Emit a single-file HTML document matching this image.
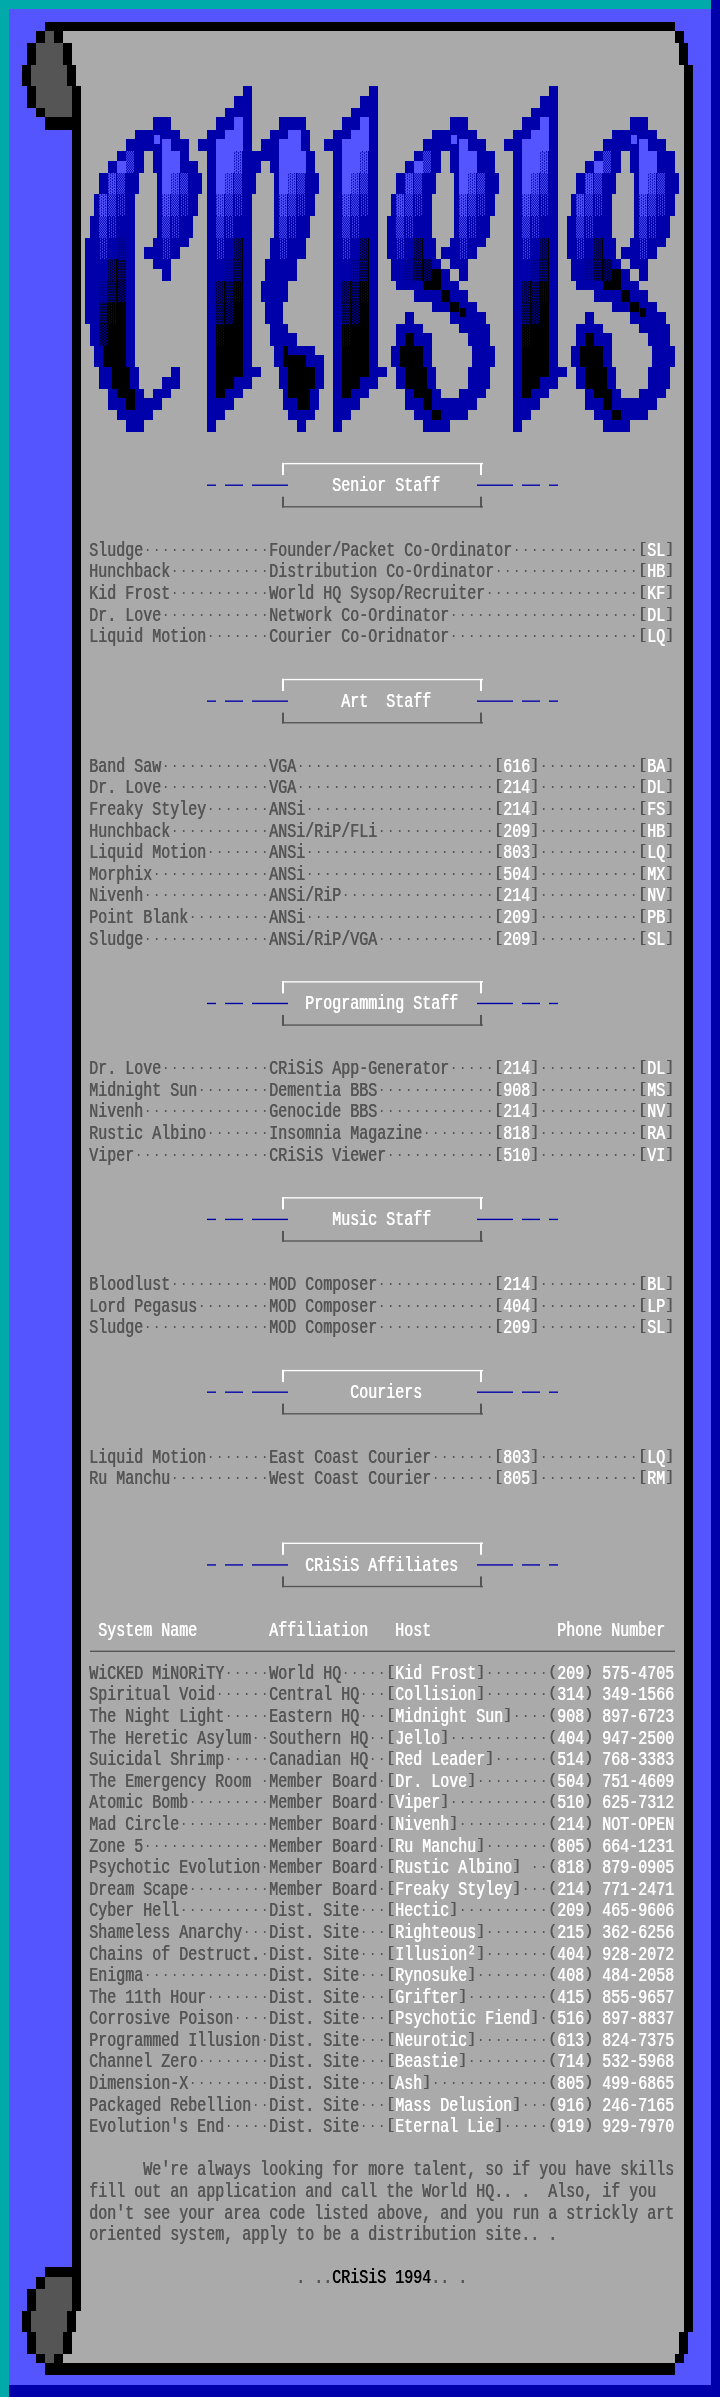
<!DOCTYPE html>
<html lang="en"><head><meta charset="utf-8"><title>CRiSiS 1994</title>
<style>
html,body{margin:0;padding:0;background:#5555ff;}
::-webkit-scrollbar{display:none;}
#scr{position:relative;width:720px;height:2397px;overflow:hidden;background:#5555ff;}
#art{position:absolute;left:0;top:0;display:block;}
.r{position:absolute;left:0;margin:0;height:21.59px;line-height:21.59px;white-space:pre;
font-family:"Liberation Mono","DejaVu Sans Mono",monospace;font-size:20px;font-weight:normal;letter-spacing:-0.00195px;
transform-origin:0 0;transform:translateZ(0) scale(0.75,1);color:#555555;}
.r span{position:absolute;top:0;}
.r{text-shadow:0.7px 0 0 currentColor;}
.r .o{font-size:12px;letter-spacing:4.79883px;top:1px;text-shadow:0.5px 0 0 currentColor;}
.r .b{transform-origin:0 6.4px;transform:scaleY(0.70);}
.w{color:#ffffff}.d{color:#555555}.k{color:#000000}
</style></head><body>
<div id="scr">
<svg id="art" width="720" height="2397" viewBox="0 0 720 2397" shape-rendering="crispEdges">
<defs>
<pattern id="s1" patternUnits="userSpaceOnUse" width="9" height="2.6993" shape-rendering="geometricPrecision"><rect width="9" height="3.7" fill="#0000aa"/><rect x="0" y="0.0000" width="1" height="1.3497" fill="#5555ff"/><rect x="1" y="0.0000" width="1" height="1.3497" fill="#5555ff"/><rect x="3" y="0.0000" width="1" height="1.3497" fill="#5555ff"/><rect x="4" y="0.0000" width="1" height="1.3497" fill="#5555ff"/><rect x="5" y="0.0000" width="1" height="1.3497" fill="#5555ff"/><rect x="7" y="0.0000" width="1" height="1.3497" fill="#5555ff"/><rect x="1" y="1.3497" width="1" height="1.3497" fill="#5555ff"/><rect x="2" y="1.3497" width="1" height="1.3497" fill="#5555ff"/><rect x="3" y="1.3497" width="1" height="1.3497" fill="#5555ff"/><rect x="5" y="1.3497" width="1" height="1.3497" fill="#5555ff"/><rect x="6" y="1.3497" width="1" height="1.3497" fill="#5555ff"/><rect x="7" y="1.3497" width="1" height="1.3497" fill="#5555ff"/></pattern>
<pattern id="s2" patternUnits="userSpaceOnUse" width="9" height="2.6993" shape-rendering="geometricPrecision"><rect width="9" height="3.7" fill="#0000aa"/><rect x="1" y="0.0000" width="1" height="1.3497" fill="#5555ff"/><rect x="3" y="0.0000" width="1" height="1.3497" fill="#5555ff"/><rect x="5" y="0.0000" width="1" height="1.3497" fill="#5555ff"/><rect x="7" y="0.0000" width="1" height="1.3497" fill="#5555ff"/><rect x="0" y="1.3497" width="1" height="1.3497" fill="#5555ff"/><rect x="2" y="1.3497" width="1" height="1.3497" fill="#5555ff"/><rect x="4" y="1.3497" width="1" height="1.3497" fill="#5555ff"/><rect x="6" y="1.3497" width="1" height="1.3497" fill="#5555ff"/></pattern>
<pattern id="s3" patternUnits="userSpaceOnUse" width="9" height="2.6993" shape-rendering="geometricPrecision"><rect width="9" height="3.7" fill="#0000aa"/><rect x="3" y="0.0000" width="1" height="1.3497" fill="#5555ff"/><rect x="7" y="0.0000" width="1" height="1.3497" fill="#5555ff"/><rect x="1" y="1.3497" width="1" height="1.3497" fill="#5555ff"/><rect x="5" y="1.3497" width="1" height="1.3497" fill="#5555ff"/></pattern>
<pattern id="s4" patternUnits="userSpaceOnUse" width="9" height="2.6993" shape-rendering="geometricPrecision"><rect width="9" height="3.7" fill="#000000"/><rect x="0" y="0.0000" width="1" height="1.3497" fill="#0000aa"/><rect x="1" y="0.0000" width="1" height="1.3497" fill="#0000aa"/><rect x="3" y="0.0000" width="1" height="1.3497" fill="#0000aa"/><rect x="4" y="0.0000" width="1" height="1.3497" fill="#0000aa"/><rect x="5" y="0.0000" width="1" height="1.3497" fill="#0000aa"/><rect x="7" y="0.0000" width="1" height="1.3497" fill="#0000aa"/><rect x="1" y="1.3497" width="1" height="1.3497" fill="#0000aa"/><rect x="2" y="1.3497" width="1" height="1.3497" fill="#0000aa"/><rect x="3" y="1.3497" width="1" height="1.3497" fill="#0000aa"/><rect x="5" y="1.3497" width="1" height="1.3497" fill="#0000aa"/><rect x="6" y="1.3497" width="1" height="1.3497" fill="#0000aa"/><rect x="7" y="1.3497" width="1" height="1.3497" fill="#0000aa"/></pattern>
<pattern id="s5" patternUnits="userSpaceOnUse" width="9" height="2.6993" shape-rendering="geometricPrecision"><rect width="9" height="3.7" fill="#000000"/><rect x="1" y="0.0000" width="1" height="1.3497" fill="#0000aa"/><rect x="3" y="0.0000" width="1" height="1.3497" fill="#0000aa"/><rect x="5" y="0.0000" width="1" height="1.3497" fill="#0000aa"/><rect x="7" y="0.0000" width="1" height="1.3497" fill="#0000aa"/><rect x="0" y="1.3497" width="1" height="1.3497" fill="#0000aa"/><rect x="2" y="1.3497" width="1" height="1.3497" fill="#0000aa"/><rect x="4" y="1.3497" width="1" height="1.3497" fill="#0000aa"/><rect x="6" y="1.3497" width="1" height="1.3497" fill="#0000aa"/></pattern>
<pattern id="s6" patternUnits="userSpaceOnUse" width="9" height="2.6993" shape-rendering="geometricPrecision"><rect width="9" height="3.7" fill="#000000"/><rect x="3" y="0.0000" width="1" height="1.3497" fill="#0000aa"/><rect x="7" y="0.0000" width="1" height="1.3497" fill="#0000aa"/><rect x="1" y="1.3497" width="1" height="1.3497" fill="#0000aa"/><rect x="5" y="1.3497" width="1" height="1.3497" fill="#0000aa"/></pattern>
</defs>
<rect x="0" y="0" width="720" height="2397" fill="#5555ff"/>
<rect x="0" y="0" width="711" height="9.45" fill="#00aaaa"/>
<rect x="711" y="0" width="9" height="2384.85" fill="#0000aa"/>
<rect x="0" y="9.45" width="9" height="2387.55" fill="#00aaaa"/>
<rect x="45" y="21.59" width="630" height="9.45" fill="#000000"/>
<rect x="45" y="2363.26" width="630" height="12.15" fill="#000000"/>
<rect x="36" y="31.04" width="9" height="12.15" fill="#000000"/>
<rect x="36" y="107.97" width="9" height="9.45" fill="#000000"/>
<rect x="36" y="2276.88" width="9" height="12.15" fill="#000000"/>
<rect x="36" y="2353.81" width="9" height="9.45" fill="#000000"/>
<rect x="45" y="31.04" width="9" height="12.15" fill="#555555"/>
<rect x="45" y="2353.81" width="9" height="9.45" fill="#555555"/>
<rect x="54" y="31.04" width="9" height="12.15" fill="#000000"/>
<rect x="54" y="2353.81" width="9" height="9.45" fill="#000000"/>
<rect x="63" y="31.04" width="612" height="12.15" fill="#aaaaaa"/>
<rect x="63" y="2353.81" width="612" height="9.45" fill="#aaaaaa"/>
<rect x="675" y="31.04" width="9" height="12.15" fill="#000000"/>
<rect x="675" y="2353.81" width="9" height="9.45" fill="#000000"/>
<rect x="27" y="43.19" width="9" height="21.59" fill="#000000"/>
<rect x="27" y="86.38" width="9" height="21.59" fill="#000000"/>
<rect x="27" y="2289.03" width="9" height="21.59" fill="#000000"/>
<rect x="27" y="2332.22" width="9" height="21.59" fill="#000000"/>
<rect x="36" y="43.19" width="27" height="21.59" fill="#555555"/>
<rect x="36" y="2332.22" width="27" height="21.59" fill="#555555"/>
<rect x="63" y="43.19" width="9" height="21.59" fill="#000000"/>
<rect x="63" y="2332.22" width="9" height="21.59" fill="#000000"/>
<rect x="72" y="43.19" width="607" height="21.59" fill="#aaaaaa"/>
<rect x="72" y="2332.22" width="607" height="21.59" fill="#aaaaaa"/>
<rect x="679" y="43.19" width="9" height="21.59" fill="#000000"/>
<rect x="679" y="2332.22" width="9" height="21.59" fill="#000000"/>
<rect x="22" y="64.78" width="9" height="21.59" fill="#000000"/>
<rect x="22" y="2310.62" width="9" height="21.59" fill="#000000"/>
<rect x="31" y="64.78" width="36" height="21.59" fill="#555555"/>
<rect x="31" y="2310.62" width="36" height="21.59" fill="#555555"/>
<rect x="67" y="64.78" width="9" height="21.59" fill="#000000"/>
<rect x="67" y="2310.62" width="9" height="21.59" fill="#000000"/>
<rect x="76" y="64.78" width="608" height="21.59" fill="#aaaaaa"/>
<rect x="76" y="2310.62" width="608" height="21.59" fill="#aaaaaa"/>
<rect x="684" y="64.78" width="9" height="2267.43" fill="#000000"/>
<rect x="36" y="86.38" width="36" height="21.59" fill="#555555"/>
<rect x="36" y="2289.03" width="36" height="21.59" fill="#555555"/>
<rect x="72" y="86.38" width="9" height="31.04" fill="#000000"/>
<rect x="72" y="129.57" width="9" height="2137.86" fill="#000000"/>
<rect x="72" y="2276.88" width="9" height="33.74" fill="#000000"/>
<rect x="81" y="86.38" width="162" height="9.45" fill="#aaaaaa"/>
<rect x="243" y="86.38" width="9" height="9.45" fill="#0000aa"/>
<rect x="243" y="117.42" width="9" height="33.74" fill="#0000aa"/>
<rect x="243" y="194.35" width="9" height="21.59" fill="#0000aa"/>
<rect x="243" y="237.54" width="9" height="129.57" fill="#0000aa"/>
<rect x="252" y="86.38" width="117" height="9.45" fill="#aaaaaa"/>
<rect x="369" y="86.38" width="9" height="9.45" fill="#0000aa"/>
<rect x="369" y="117.42" width="9" height="98.53" fill="#0000aa"/>
<rect x="369" y="237.54" width="9" height="129.57" fill="#0000aa"/>
<rect x="378" y="86.38" width="171" height="9.45" fill="#aaaaaa"/>
<rect x="549" y="86.38" width="9" height="9.45" fill="#0000aa"/>
<rect x="549" y="117.42" width="9" height="98.53" fill="#0000aa"/>
<rect x="549" y="237.54" width="9" height="129.57" fill="#0000aa"/>
<rect x="558" y="86.38" width="126" height="31.04" fill="#aaaaaa"/>
<rect x="81" y="95.83" width="153" height="12.15" fill="#aaaaaa"/>
<rect x="234" y="95.83" width="18" height="12.15" fill="#0000aa"/>
<rect x="234" y="215.95" width="18" height="21.59" fill="#0000aa"/>
<rect x="234" y="376.56" width="18" height="12.15" fill="#0000aa"/>
<rect x="252" y="95.83" width="108" height="12.15" fill="#aaaaaa"/>
<rect x="360" y="95.83" width="18" height="12.15" fill="#0000aa"/>
<rect x="360" y="215.95" width="18" height="21.59" fill="#0000aa"/>
<rect x="360" y="376.56" width="18" height="12.15" fill="#0000aa"/>
<rect x="378" y="95.83" width="162" height="12.15" fill="#aaaaaa"/>
<rect x="540" y="95.83" width="18" height="12.15" fill="#0000aa"/>
<rect x="540" y="215.95" width="18" height="21.59" fill="#0000aa"/>
<rect x="540" y="376.56" width="18" height="12.15" fill="#0000aa"/>
<rect x="45" y="107.97" width="27" height="9.45" fill="#555555"/>
<rect x="45" y="2276.88" width="27" height="12.15" fill="#555555"/>
<rect x="81" y="107.97" width="144" height="9.45" fill="#aaaaaa"/>
<rect x="225" y="107.97" width="27" height="9.45" fill="#0000aa"/>
<rect x="252" y="107.97" width="99" height="9.45" fill="#aaaaaa"/>
<rect x="351" y="107.97" width="27" height="9.45" fill="#0000aa"/>
<rect x="378" y="107.97" width="153" height="9.45" fill="#aaaaaa"/>
<rect x="531" y="107.97" width="27" height="9.45" fill="#0000aa"/>
<rect x="45" y="117.42" width="36" height="12.15" fill="#000000"/>
<rect x="45" y="2267.43" width="36" height="9.45" fill="#000000"/>
<rect x="81" y="117.42" width="72" height="12.15" fill="#aaaaaa"/>
<rect x="153" y="117.42" width="18" height="12.15" fill="#0000aa"/>
<rect x="153" y="259.14" width="18" height="9.45" fill="#0000aa"/>
<rect x="153" y="388.7" width="18" height="9.45" fill="#0000aa"/>
<rect x="171" y="117.42" width="45" height="12.15" fill="#aaaaaa"/>
<rect x="216" y="117.42" width="18" height="12.15" fill="#0000aa"/>
<rect x="252" y="117.42" width="27" height="12.15" fill="#aaaaaa"/>
<rect x="252" y="376.56" width="27" height="12.15" fill="#aaaaaa"/>
<rect x="279" y="117.42" width="27" height="12.15" fill="#0000aa"/>
<rect x="306" y="117.42" width="36" height="12.15" fill="#aaaaaa"/>
<rect x="342" y="117.42" width="18" height="12.15" fill="#0000aa"/>
<rect x="378" y="117.42" width="72" height="12.15" fill="#aaaaaa"/>
<rect x="450" y="117.42" width="18" height="12.15" fill="#0000aa"/>
<rect x="450" y="259.14" width="18" height="9.45" fill="#0000aa"/>
<rect x="450" y="290.18" width="18" height="12.15" fill="#0000aa"/>
<rect x="468" y="117.42" width="54" height="12.15" fill="#aaaaaa"/>
<rect x="522" y="117.42" width="18" height="12.15" fill="#0000aa"/>
<rect x="558" y="117.42" width="72" height="12.15" fill="#aaaaaa"/>
<rect x="630" y="117.42" width="18" height="12.15" fill="#0000aa"/>
<rect x="630" y="259.14" width="18" height="9.45" fill="#0000aa"/>
<rect x="630" y="290.18" width="18" height="12.15" fill="#0000aa"/>
<rect x="648" y="117.42" width="36" height="12.15" fill="#aaaaaa"/>
<rect x="648" y="259.14" width="36" height="21.59" fill="#aaaaaa"/>
<rect x="648" y="290.18" width="36" height="12.15" fill="#aaaaaa"/>
<rect x="648" y="410.3" width="36" height="9.45" fill="#aaaaaa"/>
<rect x="81" y="129.57" width="54" height="9.45" fill="#aaaaaa"/>
<rect x="135" y="129.57" width="45" height="9.45" fill="#0000aa"/>
<rect x="180" y="129.57" width="27" height="9.45" fill="#aaaaaa"/>
<rect x="180" y="246.99" width="27" height="12.15" fill="#aaaaaa"/>
<rect x="180" y="367.11" width="27" height="21.59" fill="#aaaaaa"/>
<rect x="207" y="129.57" width="18" height="9.45" fill="#0000aa"/>
<rect x="207" y="259.14" width="18" height="21.59" fill="#0000aa"/>
<rect x="207" y="410.3" width="18" height="9.45" fill="#0000aa"/>
<rect x="252" y="129.57" width="18" height="9.45" fill="#aaaaaa"/>
<rect x="252" y="237.54" width="18" height="21.59" fill="#aaaaaa"/>
<rect x="252" y="323.92" width="18" height="21.59" fill="#aaaaaa"/>
<rect x="270" y="129.57" width="18" height="9.45" fill="#0000aa"/>
<rect x="270" y="323.92" width="18" height="9.45" fill="#0000aa"/>
<rect x="301" y="129.57" width="9" height="21.59" fill="#0000aa"/>
<rect x="310" y="129.57" width="23" height="9.45" fill="#aaaaaa"/>
<rect x="310" y="215.95" width="23" height="21.59" fill="#aaaaaa"/>
<rect x="333" y="129.57" width="18" height="9.45" fill="#0000aa"/>
<rect x="333" y="259.14" width="18" height="21.59" fill="#0000aa"/>
<rect x="333" y="410.3" width="18" height="9.45" fill="#0000aa"/>
<rect x="378" y="129.57" width="54" height="9.45" fill="#aaaaaa"/>
<rect x="378" y="302.32" width="54" height="9.45" fill="#aaaaaa"/>
<rect x="432" y="129.57" width="45" height="9.45" fill="#0000aa"/>
<rect x="432" y="398.15" width="45" height="12.15" fill="#0000aa"/>
<rect x="477" y="129.57" width="36" height="9.45" fill="#aaaaaa"/>
<rect x="477" y="246.99" width="36" height="12.15" fill="#aaaaaa"/>
<rect x="477" y="302.32" width="36" height="9.45" fill="#aaaaaa"/>
<rect x="477" y="398.15" width="36" height="12.15" fill="#aaaaaa"/>
<rect x="513" y="129.57" width="18" height="9.45" fill="#0000aa"/>
<rect x="513" y="259.14" width="18" height="21.59" fill="#0000aa"/>
<rect x="513" y="410.3" width="18" height="9.45" fill="#0000aa"/>
<rect x="558" y="129.57" width="54" height="9.45" fill="#aaaaaa"/>
<rect x="558" y="302.32" width="54" height="9.45" fill="#aaaaaa"/>
<rect x="612" y="129.57" width="45" height="9.45" fill="#0000aa"/>
<rect x="612" y="398.15" width="45" height="12.15" fill="#0000aa"/>
<rect x="657" y="129.57" width="27" height="9.45" fill="#aaaaaa"/>
<rect x="657" y="246.99" width="27" height="12.15" fill="#aaaaaa"/>
<rect x="657" y="302.32" width="27" height="9.45" fill="#aaaaaa"/>
<rect x="657" y="398.15" width="27" height="12.15" fill="#aaaaaa"/>
<rect x="81" y="139.02" width="45" height="12.15" fill="#aaaaaa"/>
<rect x="81" y="419.74" width="45" height="12.15" fill="#aaaaaa"/>
<rect x="126" y="139.02" width="36" height="12.15" fill="#0000aa"/>
<rect x="171" y="139.02" width="18" height="12.15" fill="#0000aa"/>
<rect x="171" y="237.54" width="18" height="9.45" fill="#0000aa"/>
<rect x="189" y="139.02" width="9" height="12.15" fill="#aaaaaa"/>
<rect x="198" y="139.02" width="18" height="12.15" fill="#0000aa"/>
<rect x="252" y="139.02" width="9" height="12.15" fill="#aaaaaa"/>
<rect x="252" y="280.73" width="9" height="21.59" fill="#aaaaaa"/>
<rect x="261" y="139.02" width="18" height="12.15" fill="#0000aa"/>
<rect x="310" y="139.02" width="14" height="12.15" fill="#aaaaaa"/>
<rect x="324" y="139.02" width="18" height="12.15" fill="#0000aa"/>
<rect x="378" y="139.02" width="45" height="12.15" fill="#aaaaaa"/>
<rect x="423" y="139.02" width="36" height="12.15" fill="#0000aa"/>
<rect x="468" y="139.02" width="18" height="12.15" fill="#0000aa"/>
<rect x="468" y="237.54" width="18" height="9.45" fill="#0000aa"/>
<rect x="486" y="139.02" width="18" height="12.15" fill="#aaaaaa"/>
<rect x="504" y="139.02" width="18" height="12.15" fill="#0000aa"/>
<rect x="558" y="139.02" width="45" height="12.15" fill="#aaaaaa"/>
<rect x="603" y="139.02" width="36" height="12.15" fill="#0000aa"/>
<rect x="648" y="139.02" width="18" height="12.15" fill="#0000aa"/>
<rect x="648" y="237.54" width="18" height="9.45" fill="#0000aa"/>
<rect x="666" y="139.02" width="18" height="12.15" fill="#aaaaaa"/>
<rect x="666" y="237.54" width="18" height="9.45" fill="#aaaaaa"/>
<rect x="666" y="311.77" width="18" height="12.15" fill="#aaaaaa"/>
<rect x="666" y="388.7" width="18" height="9.45" fill="#aaaaaa"/>
<rect x="81" y="151.16" width="36" height="9.45" fill="#aaaaaa"/>
<rect x="81" y="410.3" width="36" height="9.45" fill="#aaaaaa"/>
<rect x="117" y="151.16" width="9" height="9.45" fill="#0000aa"/>
<rect x="126" y="151.16" width="9" height="21.59" fill="url(#s2)"/>
<rect x="135" y="151.16" width="9" height="21.59" fill="#0000aa"/>
<rect x="135" y="388.7" width="9" height="9.45" fill="#0000aa"/>
<rect x="144" y="151.16" width="9" height="21.59" fill="#aaaaaa"/>
<rect x="144" y="388.7" width="9" height="9.45" fill="#aaaaaa"/>
<rect x="153" y="151.16" width="9" height="21.59" fill="#0000aa"/>
<rect x="153" y="237.54" width="9" height="9.45" fill="#0000aa"/>
<rect x="180" y="151.16" width="9" height="9.45" fill="#0000aa"/>
<rect x="189" y="151.16" width="18" height="9.45" fill="#aaaaaa"/>
<rect x="189" y="237.54" width="18" height="9.45" fill="#aaaaaa"/>
<rect x="207" y="151.16" width="9" height="107.97" fill="#0000aa"/>
<rect x="207" y="280.73" width="9" height="117.42" fill="#0000aa"/>
<rect x="207" y="419.74" width="9" height="12.15" fill="#0000aa"/>
<rect x="234" y="151.16" width="9" height="21.59" fill="url(#s1)"/>
<rect x="243" y="151.16" width="36" height="9.45" fill="#0000aa"/>
<rect x="306" y="151.16" width="9" height="21.59" fill="#0000aa"/>
<rect x="306" y="194.35" width="9" height="21.59" fill="#0000aa"/>
<rect x="315" y="151.16" width="18" height="21.59" fill="#aaaaaa"/>
<rect x="315" y="194.35" width="18" height="21.59" fill="#aaaaaa"/>
<rect x="315" y="345.51" width="18" height="9.45" fill="#aaaaaa"/>
<rect x="315" y="410.3" width="18" height="9.45" fill="#aaaaaa"/>
<rect x="333" y="151.16" width="9" height="107.97" fill="#0000aa"/>
<rect x="333" y="280.73" width="9" height="117.42" fill="#0000aa"/>
<rect x="333" y="419.74" width="9" height="12.15" fill="#0000aa"/>
<rect x="360" y="151.16" width="9" height="21.59" fill="url(#s1)"/>
<rect x="378" y="151.16" width="36" height="9.45" fill="#aaaaaa"/>
<rect x="378" y="290.18" width="36" height="12.15" fill="#aaaaaa"/>
<rect x="414" y="151.16" width="9" height="9.45" fill="#0000aa"/>
<rect x="423" y="151.16" width="9" height="21.59" fill="url(#s2)"/>
<rect x="432" y="151.16" width="9" height="21.59" fill="#0000aa"/>
<rect x="432" y="259.14" width="9" height="9.45" fill="#0000aa"/>
<rect x="432" y="388.7" width="9" height="9.45" fill="#0000aa"/>
<rect x="441" y="151.16" width="9" height="21.59" fill="#aaaaaa"/>
<rect x="441" y="259.14" width="9" height="9.45" fill="#aaaaaa"/>
<rect x="450" y="151.16" width="9" height="21.59" fill="#0000aa"/>
<rect x="450" y="237.54" width="9" height="9.45" fill="#0000aa"/>
<rect x="477" y="151.16" width="18" height="21.59" fill="#0000aa"/>
<rect x="495" y="151.16" width="18" height="21.59" fill="#aaaaaa"/>
<rect x="495" y="194.35" width="18" height="21.59" fill="#aaaaaa"/>
<rect x="495" y="345.51" width="18" height="21.59" fill="#aaaaaa"/>
<rect x="513" y="151.16" width="9" height="107.97" fill="#0000aa"/>
<rect x="513" y="280.73" width="9" height="117.42" fill="#0000aa"/>
<rect x="513" y="419.74" width="9" height="12.15" fill="#0000aa"/>
<rect x="540" y="151.16" width="9" height="21.59" fill="url(#s1)"/>
<rect x="558" y="151.16" width="36" height="9.45" fill="#aaaaaa"/>
<rect x="558" y="290.18" width="36" height="12.15" fill="#aaaaaa"/>
<rect x="594" y="151.16" width="9" height="9.45" fill="#0000aa"/>
<rect x="603" y="151.16" width="9" height="21.59" fill="url(#s2)"/>
<rect x="612" y="151.16" width="9" height="21.59" fill="#0000aa"/>
<rect x="612" y="259.14" width="9" height="9.45" fill="#0000aa"/>
<rect x="612" y="388.7" width="9" height="9.45" fill="#0000aa"/>
<rect x="621" y="151.16" width="9" height="21.59" fill="#aaaaaa"/>
<rect x="621" y="259.14" width="9" height="9.45" fill="#aaaaaa"/>
<rect x="630" y="151.16" width="9" height="21.59" fill="#0000aa"/>
<rect x="630" y="237.54" width="9" height="9.45" fill="#0000aa"/>
<rect x="657" y="151.16" width="18" height="21.59" fill="#0000aa"/>
<rect x="675" y="151.16" width="9" height="21.59" fill="#aaaaaa"/>
<rect x="675" y="194.35" width="9" height="21.59" fill="#aaaaaa"/>
<rect x="675" y="345.51" width="9" height="21.59" fill="#aaaaaa"/>
<rect x="81" y="160.61" width="27" height="12.15" fill="#aaaaaa"/>
<rect x="81" y="388.7" width="27" height="21.59" fill="#aaaaaa"/>
<rect x="108" y="160.61" width="9" height="12.15" fill="#0000aa"/>
<rect x="108" y="237.54" width="9" height="21.59" fill="#0000aa"/>
<rect x="108" y="388.7" width="9" height="9.45" fill="#0000aa"/>
<rect x="180" y="160.61" width="18" height="12.15" fill="#0000aa"/>
<rect x="198" y="160.61" width="9" height="12.15" fill="#aaaaaa"/>
<rect x="198" y="194.35" width="9" height="21.59" fill="#aaaaaa"/>
<rect x="243" y="160.61" width="18" height="12.15" fill="#0000aa"/>
<rect x="243" y="367.11" width="18" height="9.45" fill="#0000aa"/>
<rect x="261" y="160.61" width="9" height="12.15" fill="#aaaaaa"/>
<rect x="270" y="160.61" width="9" height="12.15" fill="#0000aa"/>
<rect x="270" y="237.54" width="9" height="21.59" fill="#0000aa"/>
<rect x="378" y="160.61" width="27" height="12.15" fill="#aaaaaa"/>
<rect x="378" y="311.77" width="27" height="12.15" fill="#aaaaaa"/>
<rect x="405" y="160.61" width="9" height="12.15" fill="#0000aa"/>
<rect x="405" y="237.54" width="9" height="21.59" fill="#0000aa"/>
<rect x="405" y="311.77" width="9" height="12.15" fill="#0000aa"/>
<rect x="405" y="388.7" width="9" height="9.45" fill="#0000aa"/>
<rect x="558" y="160.61" width="27" height="12.15" fill="#aaaaaa"/>
<rect x="558" y="311.77" width="27" height="12.15" fill="#aaaaaa"/>
<rect x="585" y="160.61" width="9" height="12.15" fill="#0000aa"/>
<rect x="585" y="237.54" width="9" height="21.59" fill="#0000aa"/>
<rect x="585" y="311.77" width="9" height="12.15" fill="#0000aa"/>
<rect x="585" y="388.7" width="9" height="9.45" fill="#0000aa"/>
<rect x="81" y="172.76" width="18" height="21.59" fill="#aaaaaa"/>
<rect x="81" y="367.11" width="18" height="21.59" fill="#aaaaaa"/>
<rect x="99" y="172.76" width="9" height="21.59" fill="#0000aa"/>
<rect x="108" y="172.76" width="9" height="21.59" fill="url(#s1)"/>
<rect x="117" y="172.76" width="9" height="21.59" fill="url(#s2)"/>
<rect x="126" y="172.76" width="13" height="21.59" fill="#0000aa"/>
<rect x="139" y="172.76" width="18" height="21.59" fill="#aaaaaa"/>
<rect x="157" y="172.76" width="5" height="64.78" fill="#0000aa"/>
<rect x="171" y="172.76" width="9" height="21.59" fill="url(#s1)"/>
<rect x="180" y="172.76" width="9" height="21.59" fill="url(#s2)"/>
<rect x="189" y="172.76" width="13" height="21.59" fill="#0000aa"/>
<rect x="202" y="172.76" width="5" height="21.59" fill="#aaaaaa"/>
<rect x="225" y="172.76" width="9" height="21.59" fill="url(#s1)"/>
<rect x="234" y="172.76" width="9" height="21.59" fill="url(#s2)"/>
<rect x="243" y="172.76" width="13" height="21.59" fill="#0000aa"/>
<rect x="256" y="172.76" width="18" height="21.59" fill="#aaaaaa"/>
<rect x="274" y="172.76" width="5" height="64.78" fill="#0000aa"/>
<rect x="288" y="172.76" width="9" height="21.59" fill="url(#s1)"/>
<rect x="297" y="172.76" width="9" height="21.59" fill="url(#s2)"/>
<rect x="306" y="172.76" width="13" height="21.59" fill="#0000aa"/>
<rect x="319" y="172.76" width="14" height="21.59" fill="#aaaaaa"/>
<rect x="319" y="388.7" width="14" height="21.59" fill="#aaaaaa"/>
<rect x="351" y="172.76" width="9" height="21.59" fill="url(#s1)"/>
<rect x="360" y="172.76" width="9" height="21.59" fill="url(#s2)"/>
<rect x="378" y="172.76" width="18" height="21.59" fill="#aaaaaa"/>
<rect x="378" y="280.73" width="18" height="9.45" fill="#aaaaaa"/>
<rect x="378" y="323.92" width="18" height="21.59" fill="#aaaaaa"/>
<rect x="378" y="376.56" width="18" height="12.15" fill="#aaaaaa"/>
<rect x="396" y="172.76" width="9" height="21.59" fill="#0000aa"/>
<rect x="396" y="333.37" width="9" height="12.15" fill="#0000aa"/>
<rect x="396" y="367.11" width="9" height="21.59" fill="#0000aa"/>
<rect x="405" y="172.76" width="9" height="21.59" fill="url(#s1)"/>
<rect x="414" y="172.76" width="9" height="21.59" fill="url(#s2)"/>
<rect x="423" y="172.76" width="13" height="21.59" fill="#0000aa"/>
<rect x="423" y="237.54" width="13" height="21.59" fill="#0000aa"/>
<rect x="436" y="172.76" width="18" height="21.59" fill="#aaaaaa"/>
<rect x="454" y="172.76" width="5" height="64.78" fill="#0000aa"/>
<rect x="468" y="172.76" width="9" height="21.59" fill="url(#s1)"/>
<rect x="477" y="172.76" width="9" height="21.59" fill="url(#s2)"/>
<rect x="486" y="172.76" width="13" height="21.59" fill="#0000aa"/>
<rect x="499" y="172.76" width="14" height="21.59" fill="#aaaaaa"/>
<rect x="531" y="172.76" width="9" height="21.59" fill="url(#s1)"/>
<rect x="540" y="172.76" width="9" height="21.59" fill="url(#s2)"/>
<rect x="558" y="172.76" width="18" height="21.59" fill="#aaaaaa"/>
<rect x="558" y="280.73" width="18" height="9.45" fill="#aaaaaa"/>
<rect x="558" y="323.92" width="18" height="21.59" fill="#aaaaaa"/>
<rect x="558" y="376.56" width="18" height="12.15" fill="#aaaaaa"/>
<rect x="576" y="172.76" width="9" height="21.59" fill="#0000aa"/>
<rect x="576" y="333.37" width="9" height="12.15" fill="#0000aa"/>
<rect x="576" y="367.11" width="9" height="21.59" fill="#0000aa"/>
<rect x="585" y="172.76" width="9" height="21.59" fill="url(#s1)"/>
<rect x="594" y="172.76" width="9" height="21.59" fill="url(#s2)"/>
<rect x="603" y="172.76" width="13" height="21.59" fill="#0000aa"/>
<rect x="603" y="237.54" width="13" height="21.59" fill="#0000aa"/>
<rect x="616" y="172.76" width="18" height="21.59" fill="#aaaaaa"/>
<rect x="634" y="172.76" width="5" height="64.78" fill="#0000aa"/>
<rect x="648" y="172.76" width="9" height="21.59" fill="url(#s1)"/>
<rect x="657" y="172.76" width="9" height="21.59" fill="url(#s2)"/>
<rect x="666" y="172.76" width="13" height="21.59" fill="#0000aa"/>
<rect x="679" y="172.76" width="5" height="21.59" fill="#aaaaaa"/>
<rect x="81" y="194.35" width="13" height="21.59" fill="#aaaaaa"/>
<rect x="81" y="345.51" width="13" height="21.59" fill="#aaaaaa"/>
<rect x="94" y="194.35" width="5" height="21.59" fill="#0000aa"/>
<rect x="99" y="194.35" width="9" height="21.59" fill="url(#s1)"/>
<rect x="108" y="194.35" width="9" height="21.59" fill="url(#s2)"/>
<rect x="117" y="194.35" width="9" height="21.59" fill="url(#s3)"/>
<rect x="126" y="194.35" width="9" height="21.59" fill="#0000aa"/>
<rect x="126" y="237.54" width="9" height="129.57" fill="#0000aa"/>
<rect x="135" y="194.35" width="22" height="43.19" fill="#aaaaaa"/>
<rect x="162" y="194.35" width="9" height="21.59" fill="url(#s1)"/>
<rect x="171" y="194.35" width="9" height="21.59" fill="url(#s2)"/>
<rect x="180" y="194.35" width="9" height="21.59" fill="url(#s3)"/>
<rect x="189" y="194.35" width="9" height="21.59" fill="#0000aa"/>
<rect x="216" y="194.35" width="9" height="21.59" fill="url(#s1)"/>
<rect x="225" y="194.35" width="9" height="21.59" fill="url(#s2)"/>
<rect x="234" y="194.35" width="9" height="21.59" fill="url(#s3)"/>
<rect x="252" y="194.35" width="22" height="43.19" fill="#aaaaaa"/>
<rect x="252" y="345.51" width="22" height="21.59" fill="#aaaaaa"/>
<rect x="279" y="194.35" width="9" height="21.59" fill="url(#s1)"/>
<rect x="288" y="194.35" width="9" height="21.59" fill="url(#s2)"/>
<rect x="297" y="194.35" width="9" height="21.59" fill="url(#s3)"/>
<rect x="342" y="194.35" width="9" height="21.59" fill="url(#s1)"/>
<rect x="351" y="194.35" width="9" height="21.59" fill="url(#s2)"/>
<rect x="360" y="194.35" width="9" height="21.59" fill="url(#s3)"/>
<rect x="378" y="194.35" width="13" height="21.59" fill="#aaaaaa"/>
<rect x="378" y="259.14" width="13" height="21.59" fill="#aaaaaa"/>
<rect x="378" y="345.51" width="13" height="21.59" fill="#aaaaaa"/>
<rect x="391" y="194.35" width="5" height="21.59" fill="#0000aa"/>
<rect x="396" y="194.35" width="9" height="21.59" fill="url(#s1)"/>
<rect x="405" y="194.35" width="9" height="21.59" fill="url(#s2)"/>
<rect x="414" y="194.35" width="9" height="21.59" fill="url(#s3)"/>
<rect x="423" y="194.35" width="9" height="21.59" fill="#0000aa"/>
<rect x="423" y="345.51" width="9" height="21.59" fill="#0000aa"/>
<rect x="432" y="194.35" width="22" height="43.19" fill="#aaaaaa"/>
<rect x="459" y="194.35" width="9" height="21.59" fill="url(#s1)"/>
<rect x="468" y="194.35" width="9" height="21.59" fill="url(#s2)"/>
<rect x="477" y="194.35" width="9" height="21.59" fill="url(#s3)"/>
<rect x="486" y="194.35" width="9" height="21.59" fill="#0000aa"/>
<rect x="522" y="194.35" width="9" height="21.59" fill="url(#s1)"/>
<rect x="531" y="194.35" width="9" height="21.59" fill="url(#s2)"/>
<rect x="540" y="194.35" width="9" height="21.59" fill="url(#s3)"/>
<rect x="558" y="194.35" width="13" height="21.59" fill="#aaaaaa"/>
<rect x="558" y="259.14" width="13" height="21.59" fill="#aaaaaa"/>
<rect x="558" y="345.51" width="13" height="21.59" fill="#aaaaaa"/>
<rect x="571" y="194.35" width="5" height="21.59" fill="#0000aa"/>
<rect x="576" y="194.35" width="9" height="21.59" fill="url(#s1)"/>
<rect x="585" y="194.35" width="9" height="21.59" fill="url(#s2)"/>
<rect x="594" y="194.35" width="9" height="21.59" fill="url(#s3)"/>
<rect x="603" y="194.35" width="9" height="21.59" fill="#0000aa"/>
<rect x="603" y="345.51" width="9" height="21.59" fill="#0000aa"/>
<rect x="612" y="194.35" width="22" height="43.19" fill="#aaaaaa"/>
<rect x="639" y="194.35" width="9" height="21.59" fill="url(#s1)"/>
<rect x="648" y="194.35" width="9" height="21.59" fill="url(#s2)"/>
<rect x="657" y="194.35" width="9" height="21.59" fill="url(#s3)"/>
<rect x="666" y="194.35" width="9" height="21.59" fill="#0000aa"/>
<rect x="81" y="215.95" width="9" height="21.59" fill="#aaaaaa"/>
<rect x="81" y="323.92" width="9" height="21.59" fill="#aaaaaa"/>
<rect x="90" y="215.95" width="9" height="21.59" fill="#0000aa"/>
<rect x="90" y="323.92" width="9" height="21.59" fill="#0000aa"/>
<rect x="99" y="215.95" width="9" height="21.59" fill="url(#s2)"/>
<rect x="108" y="215.95" width="9" height="21.59" fill="url(#s3)"/>
<rect x="117" y="215.95" width="18" height="21.59" fill="#0000aa"/>
<rect x="162" y="215.95" width="9" height="21.59" fill="url(#s2)"/>
<rect x="171" y="215.95" width="9" height="21.59" fill="url(#s3)"/>
<rect x="180" y="215.95" width="13" height="21.59" fill="#0000aa"/>
<rect x="193" y="215.95" width="14" height="21.59" fill="#aaaaaa"/>
<rect x="216" y="215.95" width="9" height="21.59" fill="url(#s2)"/>
<rect x="225" y="215.95" width="9" height="21.59" fill="url(#s3)"/>
<rect x="279" y="215.95" width="9" height="21.59" fill="url(#s2)"/>
<rect x="288" y="215.95" width="9" height="21.59" fill="url(#s3)"/>
<rect x="297" y="215.95" width="13" height="21.59" fill="#0000aa"/>
<rect x="342" y="215.95" width="9" height="21.59" fill="url(#s2)"/>
<rect x="351" y="215.95" width="9" height="21.59" fill="url(#s3)"/>
<rect x="378" y="215.95" width="9" height="43.19" fill="#aaaaaa"/>
<rect x="387" y="215.95" width="9" height="43.19" fill="#0000aa"/>
<rect x="396" y="215.95" width="9" height="21.59" fill="url(#s2)"/>
<rect x="405" y="215.95" width="9" height="21.59" fill="url(#s3)"/>
<rect x="414" y="215.95" width="18" height="21.59" fill="#0000aa"/>
<rect x="414" y="333.37" width="18" height="12.15" fill="#0000aa"/>
<rect x="414" y="410.3" width="18" height="9.45" fill="#0000aa"/>
<rect x="459" y="215.95" width="9" height="21.59" fill="url(#s2)"/>
<rect x="468" y="215.95" width="9" height="21.59" fill="url(#s3)"/>
<rect x="477" y="215.95" width="13" height="21.59" fill="#0000aa"/>
<rect x="490" y="215.95" width="23" height="21.59" fill="#aaaaaa"/>
<rect x="490" y="323.92" width="23" height="21.59" fill="#aaaaaa"/>
<rect x="490" y="367.11" width="23" height="21.59" fill="#aaaaaa"/>
<rect x="522" y="215.95" width="9" height="21.59" fill="url(#s2)"/>
<rect x="531" y="215.95" width="9" height="21.59" fill="url(#s3)"/>
<rect x="558" y="215.95" width="9" height="43.19" fill="#aaaaaa"/>
<rect x="567" y="215.95" width="9" height="43.19" fill="#0000aa"/>
<rect x="576" y="215.95" width="9" height="21.59" fill="url(#s2)"/>
<rect x="585" y="215.95" width="9" height="21.59" fill="url(#s3)"/>
<rect x="594" y="215.95" width="18" height="21.59" fill="#0000aa"/>
<rect x="594" y="333.37" width="18" height="12.15" fill="#0000aa"/>
<rect x="594" y="410.3" width="18" height="9.45" fill="#0000aa"/>
<rect x="639" y="215.95" width="9" height="21.59" fill="url(#s2)"/>
<rect x="648" y="215.95" width="9" height="21.59" fill="url(#s3)"/>
<rect x="657" y="215.95" width="13" height="21.59" fill="#0000aa"/>
<rect x="670" y="215.95" width="14" height="21.59" fill="#aaaaaa"/>
<rect x="670" y="323.92" width="14" height="21.59" fill="#aaaaaa"/>
<rect x="670" y="367.11" width="14" height="21.59" fill="#aaaaaa"/>
<rect x="81" y="237.54" width="4" height="86.38" fill="#aaaaaa"/>
<rect x="85" y="237.54" width="14" height="21.59" fill="#0000aa"/>
<rect x="85" y="280.73" width="14" height="43.19" fill="#0000aa"/>
<rect x="99" y="237.54" width="9" height="21.59" fill="url(#s3)"/>
<rect x="117" y="237.54" width="9" height="21.59" fill="url(#s4)"/>
<rect x="135" y="237.54" width="18" height="9.45" fill="#aaaaaa"/>
<rect x="135" y="259.14" width="18" height="9.45" fill="#aaaaaa"/>
<rect x="162" y="237.54" width="9" height="21.59" fill="url(#s3)"/>
<rect x="216" y="237.54" width="9" height="21.59" fill="url(#s3)"/>
<rect x="225" y="237.54" width="9" height="21.59" fill="#0000aa"/>
<rect x="234" y="237.54" width="9" height="21.59" fill="url(#s4)"/>
<rect x="279" y="237.54" width="9" height="21.59" fill="url(#s3)"/>
<rect x="288" y="237.54" width="18" height="21.59" fill="#0000aa"/>
<rect x="306" y="237.54" width="27" height="21.59" fill="#aaaaaa"/>
<rect x="306" y="419.74" width="27" height="12.15" fill="#aaaaaa"/>
<rect x="342" y="237.54" width="9" height="21.59" fill="url(#s3)"/>
<rect x="351" y="237.54" width="9" height="21.59" fill="#0000aa"/>
<rect x="360" y="237.54" width="9" height="21.59" fill="url(#s4)"/>
<rect x="396" y="237.54" width="9" height="21.59" fill="url(#s3)"/>
<rect x="414" y="237.54" width="9" height="21.59" fill="url(#s4)"/>
<rect x="436" y="237.54" width="14" height="9.45" fill="#aaaaaa"/>
<rect x="459" y="237.54" width="9" height="21.59" fill="url(#s3)"/>
<rect x="486" y="237.54" width="27" height="9.45" fill="#aaaaaa"/>
<rect x="486" y="311.77" width="27" height="12.15" fill="#aaaaaa"/>
<rect x="486" y="388.7" width="27" height="9.45" fill="#aaaaaa"/>
<rect x="522" y="237.54" width="9" height="21.59" fill="url(#s3)"/>
<rect x="531" y="237.54" width="9" height="21.59" fill="#0000aa"/>
<rect x="540" y="237.54" width="9" height="21.59" fill="url(#s4)"/>
<rect x="576" y="237.54" width="9" height="21.59" fill="url(#s3)"/>
<rect x="594" y="237.54" width="9" height="21.59" fill="url(#s4)"/>
<rect x="616" y="237.54" width="14" height="9.45" fill="#aaaaaa"/>
<rect x="639" y="237.54" width="9" height="21.59" fill="url(#s3)"/>
<rect x="135" y="246.99" width="9" height="12.15" fill="#aaaaaa"/>
<rect x="144" y="246.99" width="18" height="12.15" fill="#0000aa"/>
<rect x="171" y="246.99" width="9" height="12.15" fill="#0000aa"/>
<rect x="171" y="367.11" width="9" height="9.45" fill="#0000aa"/>
<rect x="436" y="246.99" width="5" height="12.15" fill="#aaaaaa"/>
<rect x="441" y="246.99" width="18" height="12.15" fill="#0000aa"/>
<rect x="441" y="280.73" width="18" height="9.45" fill="#0000aa"/>
<rect x="468" y="246.99" width="9" height="12.15" fill="#0000aa"/>
<rect x="616" y="246.99" width="5" height="12.15" fill="#aaaaaa"/>
<rect x="621" y="246.99" width="18" height="12.15" fill="#0000aa"/>
<rect x="621" y="280.73" width="18" height="9.45" fill="#0000aa"/>
<rect x="648" y="246.99" width="9" height="12.15" fill="#0000aa"/>
<rect x="85" y="259.14" width="23" height="21.59" fill="#0000aa"/>
<rect x="108" y="259.14" width="9" height="21.59" fill="url(#s4)"/>
<rect x="117" y="259.14" width="9" height="21.59" fill="url(#s5)"/>
<rect x="171" y="259.14" width="36" height="21.59" fill="#aaaaaa"/>
<rect x="171" y="388.7" width="36" height="9.45" fill="#aaaaaa"/>
<rect x="225" y="259.14" width="9" height="21.59" fill="url(#s4)"/>
<rect x="234" y="259.14" width="9" height="21.59" fill="url(#s5)"/>
<rect x="252" y="259.14" width="13" height="21.59" fill="#aaaaaa"/>
<rect x="252" y="302.32" width="13" height="21.59" fill="#aaaaaa"/>
<rect x="265" y="259.14" width="32" height="21.59" fill="#0000aa"/>
<rect x="297" y="259.14" width="36" height="21.59" fill="#aaaaaa"/>
<rect x="297" y="333.37" width="36" height="12.15" fill="#aaaaaa"/>
<rect x="351" y="259.14" width="9" height="21.59" fill="url(#s4)"/>
<rect x="360" y="259.14" width="9" height="21.59" fill="url(#s5)"/>
<rect x="391" y="259.14" width="14" height="21.59" fill="#0000aa"/>
<rect x="405" y="259.14" width="9" height="21.59" fill="url(#s4)"/>
<rect x="414" y="259.14" width="9" height="21.59" fill="url(#s5)"/>
<rect x="423" y="259.14" width="9" height="21.59" fill="url(#s6)"/>
<rect x="468" y="259.14" width="45" height="21.59" fill="#aaaaaa"/>
<rect x="468" y="290.18" width="45" height="12.15" fill="#aaaaaa"/>
<rect x="468" y="410.3" width="45" height="9.45" fill="#aaaaaa"/>
<rect x="531" y="259.14" width="9" height="21.59" fill="url(#s4)"/>
<rect x="540" y="259.14" width="9" height="21.59" fill="url(#s5)"/>
<rect x="571" y="259.14" width="14" height="21.59" fill="#0000aa"/>
<rect x="585" y="259.14" width="9" height="21.59" fill="url(#s4)"/>
<rect x="594" y="259.14" width="9" height="21.59" fill="url(#s5)"/>
<rect x="603" y="259.14" width="9" height="21.59" fill="url(#s6)"/>
<rect x="135" y="268.58" width="27" height="12.15" fill="#aaaaaa"/>
<rect x="162" y="268.58" width="9" height="12.15" fill="#0000aa"/>
<rect x="432" y="268.58" width="9" height="12.15" fill="#000000"/>
<rect x="432" y="410.3" width="9" height="9.45" fill="#000000"/>
<rect x="441" y="268.58" width="9" height="12.15" fill="#0000aa"/>
<rect x="450" y="268.58" width="9" height="12.15" fill="#aaaaaa"/>
<rect x="459" y="268.58" width="9" height="12.15" fill="#0000aa"/>
<rect x="612" y="268.58" width="9" height="12.15" fill="#000000"/>
<rect x="612" y="410.3" width="9" height="9.45" fill="#000000"/>
<rect x="621" y="268.58" width="9" height="12.15" fill="#0000aa"/>
<rect x="630" y="268.58" width="9" height="12.15" fill="#aaaaaa"/>
<rect x="639" y="268.58" width="9" height="12.15" fill="#0000aa"/>
<rect x="99" y="280.73" width="9" height="21.59" fill="url(#s4)"/>
<rect x="108" y="280.73" width="9" height="21.59" fill="url(#s5)"/>
<rect x="117" y="280.73" width="9" height="21.59" fill="url(#s6)"/>
<rect x="135" y="280.73" width="72" height="86.38" fill="#aaaaaa"/>
<rect x="216" y="280.73" width="9" height="21.59" fill="url(#s4)"/>
<rect x="225" y="280.73" width="9" height="21.59" fill="url(#s5)"/>
<rect x="234" y="280.73" width="9" height="21.59" fill="url(#s6)"/>
<rect x="261" y="280.73" width="27" height="21.59" fill="#0000aa"/>
<rect x="288" y="280.73" width="45" height="21.59" fill="#aaaaaa"/>
<rect x="288" y="323.92" width="45" height="9.45" fill="#aaaaaa"/>
<rect x="342" y="280.73" width="9" height="21.59" fill="url(#s4)"/>
<rect x="351" y="280.73" width="9" height="21.59" fill="url(#s5)"/>
<rect x="360" y="280.73" width="9" height="21.59" fill="url(#s6)"/>
<rect x="396" y="280.73" width="27" height="9.45" fill="#0000aa"/>
<rect x="396" y="323.92" width="27" height="9.45" fill="#0000aa"/>
<rect x="423" y="280.73" width="18" height="9.45" fill="#000000"/>
<rect x="459" y="280.73" width="54" height="9.45" fill="#aaaaaa"/>
<rect x="522" y="280.73" width="9" height="21.59" fill="url(#s4)"/>
<rect x="531" y="280.73" width="9" height="21.59" fill="url(#s5)"/>
<rect x="540" y="280.73" width="9" height="21.59" fill="url(#s6)"/>
<rect x="576" y="280.73" width="27" height="9.45" fill="#0000aa"/>
<rect x="576" y="323.92" width="27" height="9.45" fill="#0000aa"/>
<rect x="603" y="280.73" width="18" height="9.45" fill="#000000"/>
<rect x="639" y="280.73" width="45" height="9.45" fill="#aaaaaa"/>
<rect x="414" y="290.18" width="27" height="12.15" fill="#0000aa"/>
<rect x="441" y="290.18" width="9" height="12.15" fill="#000000"/>
<rect x="594" y="290.18" width="27" height="12.15" fill="#0000aa"/>
<rect x="621" y="290.18" width="9" height="12.15" fill="#000000"/>
<rect x="99" y="302.32" width="9" height="21.59" fill="url(#s5)"/>
<rect x="108" y="302.32" width="9" height="21.59" fill="url(#s6)"/>
<rect x="117" y="302.32" width="9" height="21.59" fill="#000000"/>
<rect x="216" y="302.32" width="9" height="21.59" fill="url(#s5)"/>
<rect x="225" y="302.32" width="9" height="21.59" fill="url(#s6)"/>
<rect x="234" y="302.32" width="9" height="21.59" fill="#000000"/>
<rect x="265" y="302.32" width="18" height="21.59" fill="#0000aa"/>
<rect x="283" y="302.32" width="50" height="21.59" fill="#aaaaaa"/>
<rect x="342" y="302.32" width="9" height="21.59" fill="url(#s5)"/>
<rect x="351" y="302.32" width="9" height="21.59" fill="url(#s6)"/>
<rect x="360" y="302.32" width="9" height="21.59" fill="#000000"/>
<rect x="432" y="302.32" width="18" height="9.45" fill="#0000aa"/>
<rect x="450" y="302.32" width="9" height="9.45" fill="#000000"/>
<rect x="459" y="302.32" width="18" height="9.45" fill="#0000aa"/>
<rect x="522" y="302.32" width="9" height="21.59" fill="url(#s5)"/>
<rect x="531" y="302.32" width="9" height="21.59" fill="url(#s6)"/>
<rect x="540" y="302.32" width="9" height="21.59" fill="#000000"/>
<rect x="612" y="302.32" width="18" height="9.45" fill="#0000aa"/>
<rect x="630" y="302.32" width="9" height="9.45" fill="#000000"/>
<rect x="639" y="302.32" width="18" height="9.45" fill="#0000aa"/>
<rect x="414" y="311.77" width="36" height="12.15" fill="#aaaaaa"/>
<rect x="450" y="311.77" width="36" height="12.15" fill="#0000aa"/>
<rect x="594" y="311.77" width="36" height="12.15" fill="#aaaaaa"/>
<rect x="630" y="311.77" width="36" height="12.15" fill="#0000aa"/>
<rect x="99" y="323.92" width="9" height="21.59" fill="url(#s6)"/>
<rect x="108" y="323.92" width="18" height="21.59" fill="#000000"/>
<rect x="216" y="323.92" width="9" height="21.59" fill="url(#s6)"/>
<rect x="225" y="323.92" width="18" height="21.59" fill="#000000"/>
<rect x="342" y="323.92" width="9" height="21.59" fill="url(#s6)"/>
<rect x="351" y="323.92" width="18" height="21.59" fill="#000000"/>
<rect x="423" y="323.92" width="36" height="9.45" fill="#aaaaaa"/>
<rect x="459" y="323.92" width="31" height="9.45" fill="#0000aa"/>
<rect x="522" y="323.92" width="9" height="21.59" fill="url(#s6)"/>
<rect x="531" y="323.92" width="18" height="21.59" fill="#000000"/>
<rect x="603" y="323.92" width="36" height="9.45" fill="#aaaaaa"/>
<rect x="639" y="323.92" width="31" height="9.45" fill="#0000aa"/>
<rect x="270" y="333.37" width="27" height="12.15" fill="#0000aa"/>
<rect x="405" y="333.37" width="9" height="12.15" fill="#000000"/>
<rect x="432" y="333.37" width="36" height="12.15" fill="#aaaaaa"/>
<rect x="468" y="333.37" width="22" height="12.15" fill="#0000aa"/>
<rect x="468" y="367.11" width="22" height="21.59" fill="#0000aa"/>
<rect x="585" y="333.37" width="9" height="12.15" fill="#000000"/>
<rect x="612" y="333.37" width="36" height="12.15" fill="#aaaaaa"/>
<rect x="648" y="333.37" width="22" height="12.15" fill="#0000aa"/>
<rect x="648" y="367.11" width="22" height="21.59" fill="#0000aa"/>
<rect x="94" y="345.51" width="9" height="21.59" fill="#0000aa"/>
<rect x="103" y="345.51" width="23" height="21.59" fill="#000000"/>
<rect x="216" y="345.51" width="27" height="31.04" fill="#000000"/>
<rect x="274" y="345.51" width="9" height="21.59" fill="#0000aa"/>
<rect x="283" y="345.51" width="5" height="9.45" fill="#000000"/>
<rect x="288" y="345.51" width="27" height="9.45" fill="#0000aa"/>
<rect x="288" y="410.3" width="27" height="9.45" fill="#0000aa"/>
<rect x="342" y="345.51" width="27" height="31.04" fill="#000000"/>
<rect x="391" y="345.51" width="9" height="21.59" fill="#0000aa"/>
<rect x="400" y="345.51" width="23" height="21.59" fill="#000000"/>
<rect x="432" y="345.51" width="40" height="21.59" fill="#aaaaaa"/>
<rect x="472" y="345.51" width="23" height="21.59" fill="#0000aa"/>
<rect x="522" y="345.51" width="27" height="31.04" fill="#000000"/>
<rect x="571" y="345.51" width="9" height="21.59" fill="#0000aa"/>
<rect x="580" y="345.51" width="23" height="21.59" fill="#000000"/>
<rect x="612" y="345.51" width="40" height="21.59" fill="#aaaaaa"/>
<rect x="652" y="345.51" width="23" height="21.59" fill="#0000aa"/>
<rect x="283" y="354.96" width="23" height="12.15" fill="#000000"/>
<rect x="306" y="354.96" width="18" height="12.15" fill="#0000aa"/>
<rect x="324" y="354.96" width="9" height="33.74" fill="#aaaaaa"/>
<rect x="99" y="367.11" width="13" height="21.59" fill="#0000aa"/>
<rect x="112" y="367.11" width="18" height="21.59" fill="#000000"/>
<rect x="130" y="367.11" width="9" height="21.59" fill="#0000aa"/>
<rect x="139" y="367.11" width="32" height="9.45" fill="#aaaaaa"/>
<rect x="261" y="367.11" width="18" height="9.45" fill="#aaaaaa"/>
<rect x="279" y="367.11" width="9" height="21.59" fill="#0000aa"/>
<rect x="288" y="367.11" width="27" height="21.59" fill="#000000"/>
<rect x="315" y="367.11" width="9" height="21.59" fill="#0000aa"/>
<rect x="369" y="367.11" width="18" height="9.45" fill="#0000aa"/>
<rect x="387" y="367.11" width="9" height="9.45" fill="#aaaaaa"/>
<rect x="405" y="367.11" width="22" height="21.59" fill="#000000"/>
<rect x="427" y="367.11" width="9" height="21.59" fill="#0000aa"/>
<rect x="436" y="367.11" width="32" height="21.59" fill="#aaaaaa"/>
<rect x="549" y="367.11" width="18" height="9.45" fill="#0000aa"/>
<rect x="567" y="367.11" width="9" height="9.45" fill="#aaaaaa"/>
<rect x="585" y="367.11" width="22" height="21.59" fill="#000000"/>
<rect x="607" y="367.11" width="9" height="21.59" fill="#0000aa"/>
<rect x="616" y="367.11" width="32" height="21.59" fill="#aaaaaa"/>
<rect x="139" y="376.56" width="23" height="12.15" fill="#aaaaaa"/>
<rect x="162" y="376.56" width="18" height="12.15" fill="#0000aa"/>
<rect x="216" y="376.56" width="18" height="12.15" fill="#000000"/>
<rect x="342" y="376.56" width="18" height="12.15" fill="#000000"/>
<rect x="522" y="376.56" width="18" height="12.15" fill="#000000"/>
<rect x="117" y="388.7" width="18" height="9.45" fill="#000000"/>
<rect x="216" y="388.7" width="9" height="9.45" fill="#000000"/>
<rect x="225" y="388.7" width="18" height="9.45" fill="#0000aa"/>
<rect x="243" y="388.7" width="40" height="9.45" fill="#aaaaaa"/>
<rect x="283" y="388.7" width="5" height="9.45" fill="#0000aa"/>
<rect x="288" y="388.7" width="22" height="9.45" fill="#000000"/>
<rect x="310" y="388.7" width="9" height="21.59" fill="#0000aa"/>
<rect x="342" y="388.7" width="9" height="9.45" fill="#000000"/>
<rect x="351" y="388.7" width="18" height="9.45" fill="#0000aa"/>
<rect x="369" y="388.7" width="36" height="9.45" fill="#aaaaaa"/>
<rect x="414" y="388.7" width="18" height="9.45" fill="#000000"/>
<rect x="441" y="388.7" width="18" height="9.45" fill="#aaaaaa"/>
<rect x="459" y="388.7" width="27" height="9.45" fill="#0000aa"/>
<rect x="522" y="388.7" width="9" height="9.45" fill="#000000"/>
<rect x="531" y="388.7" width="18" height="9.45" fill="#0000aa"/>
<rect x="549" y="388.7" width="36" height="9.45" fill="#aaaaaa"/>
<rect x="594" y="388.7" width="18" height="9.45" fill="#000000"/>
<rect x="621" y="388.7" width="18" height="9.45" fill="#aaaaaa"/>
<rect x="639" y="388.7" width="27" height="9.45" fill="#0000aa"/>
<rect x="108" y="398.15" width="18" height="12.15" fill="#0000aa"/>
<rect x="126" y="398.15" width="9" height="12.15" fill="#000000"/>
<rect x="135" y="398.15" width="27" height="12.15" fill="#0000aa"/>
<rect x="162" y="398.15" width="45" height="12.15" fill="#aaaaaa"/>
<rect x="207" y="398.15" width="27" height="12.15" fill="#0000aa"/>
<rect x="234" y="398.15" width="49" height="12.15" fill="#aaaaaa"/>
<rect x="283" y="398.15" width="14" height="12.15" fill="#0000aa"/>
<rect x="297" y="398.15" width="13" height="12.15" fill="#000000"/>
<rect x="333" y="398.15" width="27" height="12.15" fill="#0000aa"/>
<rect x="360" y="398.15" width="45" height="12.15" fill="#aaaaaa"/>
<rect x="405" y="398.15" width="18" height="12.15" fill="#0000aa"/>
<rect x="423" y="398.15" width="9" height="12.15" fill="#000000"/>
<rect x="513" y="398.15" width="27" height="12.15" fill="#0000aa"/>
<rect x="540" y="398.15" width="45" height="12.15" fill="#aaaaaa"/>
<rect x="585" y="398.15" width="18" height="12.15" fill="#0000aa"/>
<rect x="603" y="398.15" width="9" height="12.15" fill="#000000"/>
<rect x="117" y="410.3" width="36" height="9.45" fill="#0000aa"/>
<rect x="153" y="410.3" width="54" height="9.45" fill="#aaaaaa"/>
<rect x="225" y="410.3" width="63" height="9.45" fill="#aaaaaa"/>
<rect x="351" y="410.3" width="63" height="9.45" fill="#aaaaaa"/>
<rect x="441" y="410.3" width="27" height="9.45" fill="#0000aa"/>
<rect x="531" y="410.3" width="63" height="9.45" fill="#aaaaaa"/>
<rect x="621" y="410.3" width="27" height="9.45" fill="#0000aa"/>
<rect x="126" y="419.74" width="18" height="12.15" fill="#0000aa"/>
<rect x="144" y="419.74" width="63" height="12.15" fill="#aaaaaa"/>
<rect x="216" y="419.74" width="81" height="12.15" fill="#aaaaaa"/>
<rect x="297" y="419.74" width="9" height="12.15" fill="#0000aa"/>
<rect x="342" y="419.74" width="81" height="12.15" fill="#aaaaaa"/>
<rect x="423" y="419.74" width="27" height="12.15" fill="#0000aa"/>
<rect x="450" y="419.74" width="63" height="12.15" fill="#aaaaaa"/>
<rect x="522" y="419.74" width="81" height="12.15" fill="#aaaaaa"/>
<rect x="603" y="419.74" width="27" height="12.15" fill="#0000aa"/>
<rect x="630" y="419.74" width="54" height="12.15" fill="#aaaaaa"/>
<rect x="81" y="431.89" width="603" height="1878.73" fill="#aaaaaa"/>
<rect x="9" y="2384.85" width="711" height="12.15" fill="#0000aa"/>
<rect x="154" y="134.97" width="6" height="9.45" fill="#5555ff"/>
<rect x="451" y="134.97" width="6" height="9.45" fill="#5555ff"/>
<rect x="631" y="134.97" width="6" height="9.45" fill="#5555ff"/>
<rect x="460" y="307.72" width="6" height="9.45" fill="#000000"/>
<rect x="640" y="307.72" width="6" height="9.45" fill="#000000"/>
<g shape-rendering="geometricPrecision">
<rect x="282" y="462.93" width="201" height="1.35" fill="#ffffff"/>
<rect x="282" y="462.93" width="2" height="12.15" fill="#ffffff"/>
<rect x="480" y="462.93" width="2" height="12.15" fill="#ffffff"/>
<rect x="282" y="506.12" width="201" height="1.35" fill="#555555"/>
<rect x="282" y="496.68" width="2" height="10.8" fill="#555555"/>
<rect x="480" y="496.68" width="2" height="10.8" fill="#555555"/>
<rect x="207" y="484.53" width="9" height="1.35" fill="#0000aa"/>
<rect x="225" y="484.53" width="18" height="1.35" fill="#0000aa"/>
<rect x="252" y="484.53" width="36" height="1.35" fill="#0000aa"/>
<rect x="477" y="484.53" width="36" height="1.35" fill="#0000aa"/>
<rect x="522" y="484.53" width="18" height="1.35" fill="#0000aa"/>
<rect x="549" y="484.53" width="9" height="1.35" fill="#0000aa"/>
<rect x="282" y="678.88" width="201" height="1.35" fill="#ffffff"/>
<rect x="282" y="678.88" width="2" height="12.15" fill="#ffffff"/>
<rect x="480" y="678.88" width="2" height="12.15" fill="#ffffff"/>
<rect x="282" y="722.07" width="201" height="1.35" fill="#555555"/>
<rect x="282" y="712.62" width="2" height="10.8" fill="#555555"/>
<rect x="480" y="712.62" width="2" height="10.8" fill="#555555"/>
<rect x="207" y="700.47" width="9" height="1.35" fill="#0000aa"/>
<rect x="225" y="700.47" width="18" height="1.35" fill="#0000aa"/>
<rect x="252" y="700.47" width="36" height="1.35" fill="#0000aa"/>
<rect x="477" y="700.47" width="36" height="1.35" fill="#0000aa"/>
<rect x="522" y="700.47" width="18" height="1.35" fill="#0000aa"/>
<rect x="549" y="700.47" width="9" height="1.35" fill="#0000aa"/>
<rect x="282" y="981.2" width="201" height="1.35" fill="#ffffff"/>
<rect x="282" y="981.2" width="2" height="12.15" fill="#ffffff"/>
<rect x="480" y="981.2" width="2" height="12.15" fill="#ffffff"/>
<rect x="282" y="1024.39" width="201" height="1.35" fill="#555555"/>
<rect x="282" y="1014.95" width="2" height="10.8" fill="#555555"/>
<rect x="480" y="1014.95" width="2" height="10.8" fill="#555555"/>
<rect x="207" y="1002.8" width="9" height="1.35" fill="#0000aa"/>
<rect x="225" y="1002.8" width="18" height="1.35" fill="#0000aa"/>
<rect x="252" y="1002.8" width="36" height="1.35" fill="#0000aa"/>
<rect x="477" y="1002.8" width="36" height="1.35" fill="#0000aa"/>
<rect x="522" y="1002.8" width="18" height="1.35" fill="#0000aa"/>
<rect x="549" y="1002.8" width="9" height="1.35" fill="#0000aa"/>
<rect x="282" y="1197.15" width="201" height="1.35" fill="#ffffff"/>
<rect x="282" y="1197.15" width="2" height="12.15" fill="#ffffff"/>
<rect x="480" y="1197.15" width="2" height="12.15" fill="#ffffff"/>
<rect x="282" y="1240.34" width="201" height="1.35" fill="#555555"/>
<rect x="282" y="1230.89" width="2" height="10.8" fill="#555555"/>
<rect x="480" y="1230.89" width="2" height="10.8" fill="#555555"/>
<rect x="207" y="1218.74" width="9" height="1.35" fill="#0000aa"/>
<rect x="225" y="1218.74" width="18" height="1.35" fill="#0000aa"/>
<rect x="252" y="1218.74" width="36" height="1.35" fill="#0000aa"/>
<rect x="477" y="1218.74" width="36" height="1.35" fill="#0000aa"/>
<rect x="522" y="1218.74" width="18" height="1.35" fill="#0000aa"/>
<rect x="549" y="1218.74" width="9" height="1.35" fill="#0000aa"/>
<rect x="282" y="1369.91" width="201" height="1.35" fill="#ffffff"/>
<rect x="282" y="1369.91" width="2" height="12.15" fill="#ffffff"/>
<rect x="480" y="1369.91" width="2" height="12.15" fill="#ffffff"/>
<rect x="282" y="1413.1" width="201" height="1.35" fill="#555555"/>
<rect x="282" y="1403.65" width="2" height="10.8" fill="#555555"/>
<rect x="480" y="1403.65" width="2" height="10.8" fill="#555555"/>
<rect x="207" y="1391.5" width="9" height="1.35" fill="#0000aa"/>
<rect x="225" y="1391.5" width="18" height="1.35" fill="#0000aa"/>
<rect x="252" y="1391.5" width="36" height="1.35" fill="#0000aa"/>
<rect x="477" y="1391.5" width="36" height="1.35" fill="#0000aa"/>
<rect x="522" y="1391.5" width="18" height="1.35" fill="#0000aa"/>
<rect x="549" y="1391.5" width="9" height="1.35" fill="#0000aa"/>
<rect x="282" y="1542.66" width="201" height="1.35" fill="#ffffff"/>
<rect x="282" y="1542.66" width="2" height="12.15" fill="#ffffff"/>
<rect x="480" y="1542.66" width="2" height="12.15" fill="#ffffff"/>
<rect x="282" y="1585.85" width="201" height="1.35" fill="#555555"/>
<rect x="282" y="1576.41" width="2" height="10.8" fill="#555555"/>
<rect x="480" y="1576.41" width="2" height="10.8" fill="#555555"/>
<rect x="207" y="1564.26" width="9" height="1.35" fill="#0000aa"/>
<rect x="225" y="1564.26" width="18" height="1.35" fill="#0000aa"/>
<rect x="252" y="1564.26" width="36" height="1.35" fill="#0000aa"/>
<rect x="477" y="1564.26" width="36" height="1.35" fill="#0000aa"/>
<rect x="522" y="1564.26" width="18" height="1.35" fill="#0000aa"/>
<rect x="549" y="1564.26" width="9" height="1.35" fill="#0000aa"/>
<rect x="90" y="1650.64" width="585" height="1.35" fill="#555555"/>
</g>
</svg>
<div class="r" style="top:475.08px;left:-1px"><span class="w" style="left:444px">Senior Staff</span></div>
<div class="r" style="top:539.86px;left:-1px"><span class="d" style="left:120px">Sludge</span><span class="o" style="left:194.4px">··············</span><span class="d" style="left:360px">Founder/Packet Co-Ordinator</span><span class="o" style="left:686.4px">··············</span><span class="b" style="left:852px">[</span><span class="w" style="left:864px">SL</span><span class="b" style="left:888px">]</span></div>
<div class="r" style="top:561.46px;left:-1px"><span class="d" style="left:120px">Hunchback</span><span class="o" style="left:230.4px">···········</span><span class="d" style="left:360px">Distribution Co-Ordinator</span><span class="o" style="left:662.4px">················</span><span class="b" style="left:852px">[</span><span class="w" style="left:864px">HB</span><span class="b" style="left:888px">]</span></div>
<div class="r" style="top:583.05px;left:-1px"><span class="d" style="left:120px">Kid Frost</span><span class="o" style="left:230.4px">···········</span><span class="d" style="left:360px">World HQ Sysop/Recruiter</span><span class="o" style="left:650.4px">·················</span><span class="b" style="left:852px">[</span><span class="w" style="left:864px">KF</span><span class="b" style="left:888px">]</span></div>
<div class="r" style="top:604.65px;left:-1px"><span class="d" style="left:120px">Dr. Love</span><span class="o" style="left:218.4px">············</span><span class="d" style="left:360px">Network Co-Ordinator</span><span class="o" style="left:602.4px">·····················</span><span class="b" style="left:852px">[</span><span class="w" style="left:864px">DL</span><span class="b" style="left:888px">]</span></div>
<div class="r" style="top:626.24px;left:-1px"><span class="d" style="left:120px">Liquid Motion</span><span class="o" style="left:278.4px">·······</span><span class="d" style="left:360px">Courier Co-Oridnator</span><span class="o" style="left:602.4px">·····················</span><span class="b" style="left:852px">[</span><span class="w" style="left:864px">LQ</span><span class="b" style="left:888px">]</span></div>
<div class="r" style="top:691.03px;left:-1px"><span class="w" style="left:456px">Art  Staff</span></div>
<div class="r" style="top:755.81px;left:-1px"><span class="d" style="left:120px">Band Saw</span><span class="o" style="left:218.4px">············</span><span class="d" style="left:360px">VGA</span><span class="o" style="left:398.4px">······················</span><span class="b" style="left:660px">[</span><span class="w" style="left:672px">616</span><span class="b" style="left:708px">]</span><span class="o" style="left:722.4px">···········</span><span class="b" style="left:852px">[</span><span class="w" style="left:864px">BA</span><span class="b" style="left:888px">]</span></div>
<div class="r" style="top:777.41px;left:-1px"><span class="d" style="left:120px">Dr. Love</span><span class="o" style="left:218.4px">············</span><span class="d" style="left:360px">VGA</span><span class="o" style="left:398.4px">······················</span><span class="b" style="left:660px">[</span><span class="w" style="left:672px">214</span><span class="b" style="left:708px">]</span><span class="o" style="left:722.4px">···········</span><span class="b" style="left:852px">[</span><span class="w" style="left:864px">DL</span><span class="b" style="left:888px">]</span></div>
<div class="r" style="top:799px;left:-1px"><span class="d" style="left:120px">Freaky Styley</span><span class="o" style="left:278.4px">·······</span><span class="d" style="left:360px">ANSi</span><span class="o" style="left:410.4px">·····················</span><span class="b" style="left:660px">[</span><span class="w" style="left:672px">214</span><span class="b" style="left:708px">]</span><span class="o" style="left:722.4px">···········</span><span class="b" style="left:852px">[</span><span class="w" style="left:864px">FS</span><span class="b" style="left:888px">]</span></div>
<div class="r" style="top:820.59px;left:-1px"><span class="d" style="left:120px">Hunchback</span><span class="o" style="left:230.4px">···········</span><span class="d" style="left:360px">ANSi/RiP/FLi</span><span class="o" style="left:506.4px">·············</span><span class="b" style="left:660px">[</span><span class="w" style="left:672px">209</span><span class="b" style="left:708px">]</span><span class="o" style="left:722.4px">···········</span><span class="b" style="left:852px">[</span><span class="w" style="left:864px">HB</span><span class="b" style="left:888px">]</span></div>
<div class="r" style="top:842.19px;left:-1px"><span class="d" style="left:120px">Liquid Motion</span><span class="o" style="left:278.4px">·······</span><span class="d" style="left:360px">ANSi</span><span class="o" style="left:410.4px">·····················</span><span class="b" style="left:660px">[</span><span class="w" style="left:672px">803</span><span class="b" style="left:708px">]</span><span class="o" style="left:722.4px">···········</span><span class="b" style="left:852px">[</span><span class="w" style="left:864px">LQ</span><span class="b" style="left:888px">]</span></div>
<div class="r" style="top:863.78px;left:-1px"><span class="d" style="left:120px">Morphix</span><span class="o" style="left:206.4px">·············</span><span class="d" style="left:360px">ANSi</span><span class="o" style="left:410.4px">·····················</span><span class="b" style="left:660px">[</span><span class="w" style="left:672px">504</span><span class="b" style="left:708px">]</span><span class="o" style="left:722.4px">···········</span><span class="b" style="left:852px">[</span><span class="w" style="left:864px">MX</span><span class="b" style="left:888px">]</span></div>
<div class="r" style="top:885.38px;left:-1px"><span class="d" style="left:120px">Nivenh</span><span class="o" style="left:194.4px">··············</span><span class="d" style="left:360px">ANSi/RiP</span><span class="o" style="left:458.4px">·················</span><span class="b" style="left:660px">[</span><span class="w" style="left:672px">214</span><span class="b" style="left:708px">]</span><span class="o" style="left:722.4px">···········</span><span class="b" style="left:852px">[</span><span class="w" style="left:864px">NV</span><span class="b" style="left:888px">]</span></div>
<div class="r" style="top:906.97px;left:-1px"><span class="d" style="left:120px">Point Blank</span><span class="o" style="left:254.4px">·········</span><span class="d" style="left:360px">ANSi</span><span class="o" style="left:410.4px">·····················</span><span class="b" style="left:660px">[</span><span class="w" style="left:672px">209</span><span class="b" style="left:708px">]</span><span class="o" style="left:722.4px">···········</span><span class="b" style="left:852px">[</span><span class="w" style="left:864px">PB</span><span class="b" style="left:888px">]</span></div>
<div class="r" style="top:928.57px;left:-1px"><span class="d" style="left:120px">Sludge</span><span class="o" style="left:194.4px">··············</span><span class="d" style="left:360px">ANSi/RiP/VGA</span><span class="o" style="left:506.4px">·············</span><span class="b" style="left:660px">[</span><span class="w" style="left:672px">209</span><span class="b" style="left:708px">]</span><span class="o" style="left:722.4px">···········</span><span class="b" style="left:852px">[</span><span class="w" style="left:864px">SL</span><span class="b" style="left:888px">]</span></div>
<div class="r" style="top:993.35px;left:-1px"><span class="w" style="left:408px">Programming Staff</span></div>
<div class="r" style="top:1058.14px;left:-1px"><span class="d" style="left:120px">Dr. Love</span><span class="o" style="left:218.4px">············</span><span class="d" style="left:360px">CRiSiS App-Generator</span><span class="o" style="left:602.4px">·····</span><span class="b" style="left:660px">[</span><span class="w" style="left:672px">214</span><span class="b" style="left:708px">]</span><span class="o" style="left:722.4px">···········</span><span class="b" style="left:852px">[</span><span class="w" style="left:864px">DL</span><span class="b" style="left:888px">]</span></div>
<div class="r" style="top:1079.73px;left:-1px"><span class="d" style="left:120px">Midnight Sun</span><span class="o" style="left:266.4px">········</span><span class="d" style="left:360px">Dementia BBS</span><span class="o" style="left:506.4px">·············</span><span class="b" style="left:660px">[</span><span class="w" style="left:672px">908</span><span class="b" style="left:708px">]</span><span class="o" style="left:722.4px">···········</span><span class="b" style="left:852px">[</span><span class="w" style="left:864px">MS</span><span class="b" style="left:888px">]</span></div>
<div class="r" style="top:1101.32px;left:-1px"><span class="d" style="left:120px">Nivenh</span><span class="o" style="left:194.4px">··············</span><span class="d" style="left:360px">Genocide BBS</span><span class="o" style="left:506.4px">·············</span><span class="b" style="left:660px">[</span><span class="w" style="left:672px">214</span><span class="b" style="left:708px">]</span><span class="o" style="left:722.4px">···········</span><span class="b" style="left:852px">[</span><span class="w" style="left:864px">NV</span><span class="b" style="left:888px">]</span></div>
<div class="r" style="top:1122.92px;left:-1px"><span class="d" style="left:120px">Rustic Albino</span><span class="o" style="left:278.4px">·······</span><span class="d" style="left:360px">Insomnia Magazine</span><span class="o" style="left:566.4px">········</span><span class="b" style="left:660px">[</span><span class="w" style="left:672px">818</span><span class="b" style="left:708px">]</span><span class="o" style="left:722.4px">···········</span><span class="b" style="left:852px">[</span><span class="w" style="left:864px">RA</span><span class="b" style="left:888px">]</span></div>
<div class="r" style="top:1144.51px;left:-1px"><span class="d" style="left:120px">Viper</span><span class="o" style="left:182.4px">···············</span><span class="d" style="left:360px">CRiSiS Viewer</span><span class="o" style="left:518.4px">············</span><span class="b" style="left:660px">[</span><span class="w" style="left:672px">510</span><span class="b" style="left:708px">]</span><span class="o" style="left:722.4px">···········</span><span class="b" style="left:852px">[</span><span class="w" style="left:864px">VI</span><span class="b" style="left:888px">]</span></div>
<div class="r" style="top:1209.3px;left:-1px"><span class="w" style="left:444px">Music Staff</span></div>
<div class="r" style="top:1274.08px;left:-1px"><span class="d" style="left:120px">Bloodlust</span><span class="o" style="left:230.4px">···········</span><span class="d" style="left:360px">MOD Composer</span><span class="o" style="left:506.4px">·············</span><span class="b" style="left:660px">[</span><span class="w" style="left:672px">214</span><span class="b" style="left:708px">]</span><span class="o" style="left:722.4px">···········</span><span class="b" style="left:852px">[</span><span class="w" style="left:864px">BL</span><span class="b" style="left:888px">]</span></div>
<div class="r" style="top:1295.68px;left:-1px"><span class="d" style="left:120px">Lord Pegasus</span><span class="o" style="left:266.4px">········</span><span class="d" style="left:360px">MOD Composer</span><span class="o" style="left:506.4px">·············</span><span class="b" style="left:660px">[</span><span class="w" style="left:672px">404</span><span class="b" style="left:708px">]</span><span class="o" style="left:722.4px">···········</span><span class="b" style="left:852px">[</span><span class="w" style="left:864px">LP</span><span class="b" style="left:888px">]</span></div>
<div class="r" style="top:1317.27px;left:-1px"><span class="d" style="left:120px">Sludge</span><span class="o" style="left:194.4px">··············</span><span class="d" style="left:360px">MOD Composer</span><span class="o" style="left:506.4px">·············</span><span class="b" style="left:660px">[</span><span class="w" style="left:672px">209</span><span class="b" style="left:708px">]</span><span class="o" style="left:722.4px">···········</span><span class="b" style="left:852px">[</span><span class="w" style="left:864px">SL</span><span class="b" style="left:888px">]</span></div>
<div class="r" style="top:1382.05px;left:-1px"><span class="w" style="left:468px">Couriers</span></div>
<div class="r" style="top:1446.84px;left:-1px"><span class="d" style="left:120px">Liquid Motion</span><span class="o" style="left:278.4px">·······</span><span class="d" style="left:360px">East Coast Courier</span><span class="o" style="left:578.4px">·······</span><span class="b" style="left:660px">[</span><span class="w" style="left:672px">803</span><span class="b" style="left:708px">]</span><span class="o" style="left:722.4px">···········</span><span class="b" style="left:852px">[</span><span class="w" style="left:864px">LQ</span><span class="b" style="left:888px">]</span></div>
<div class="r" style="top:1468.43px;left:-1px"><span class="d" style="left:120px">Ru Manchu</span><span class="o" style="left:230.4px">···········</span><span class="d" style="left:360px">West Coast Courier</span><span class="o" style="left:578.4px">·······</span><span class="b" style="left:660px">[</span><span class="w" style="left:672px">805</span><span class="b" style="left:708px">]</span><span class="o" style="left:722.4px">···········</span><span class="b" style="left:852px">[</span><span class="w" style="left:864px">RM</span><span class="b" style="left:888px">]</span></div>
<div class="r" style="top:1554.81px;left:-1px"><span class="w" style="left:408px">CRiSiS Affiliates</span></div>
<div class="r" style="top:1619.59px;left:-1px"><span class="w" style="left:132px">System Name</span><span class="w" style="left:360px">Affiliation</span><span class="w" style="left:528px">Host</span><span class="w" style="left:744px">Phone Number</span></div>
<div class="r" style="top:1662.78px;left:-1px"><span class="d" style="left:120px">WiCKED MiNORiTY</span><span class="o" style="left:302.4px">·····</span><span class="d" style="left:360px">World HQ</span><span class="o" style="left:458.4px">·····</span><span class="b" style="left:516px">[</span><span class="w" style="left:528px">Kid Frost</span><span class="b" style="left:636px">]</span><span class="o" style="left:650.4px">·······</span><span class="b" style="left:732px">(</span><span class="w" style="left:744px">209</span><span class="b" style="left:780px">)</span><span class="w" style="left:804px">575-4705</span></div>
<div class="r" style="top:1684.38px;left:-1px"><span class="d" style="left:120px">Spiritual Void</span><span class="o" style="left:290.4px">······</span><span class="d" style="left:360px">Central HQ</span><span class="o" style="left:482.4px">···</span><span class="b" style="left:516px">[</span><span class="w" style="left:528px">Collision</span><span class="b" style="left:636px">]</span><span class="o" style="left:650.4px">·······</span><span class="b" style="left:732px">(</span><span class="w" style="left:744px">314</span><span class="b" style="left:780px">)</span><span class="w" style="left:804px">349-1566</span></div>
<div class="r" style="top:1705.97px;left:-1px"><span class="d" style="left:120px">The Night Light</span><span class="o" style="left:302.4px">·····</span><span class="d" style="left:360px">Eastern HQ</span><span class="o" style="left:482.4px">···</span><span class="b" style="left:516px">[</span><span class="w" style="left:528px">Midnight Sun</span><span class="b" style="left:672px">]</span><span class="o" style="left:686.4px">····</span><span class="b" style="left:732px">(</span><span class="w" style="left:744px">908</span><span class="b" style="left:780px">)</span><span class="w" style="left:804px">897-6723</span></div>
<div class="r" style="top:1727.57px;left:-1px"><span class="d" style="left:120px">The Heretic Asylum</span><span class="o" style="left:338.4px">··</span><span class="d" style="left:360px">Southern HQ</span><span class="o" style="left:494.4px">··</span><span class="b" style="left:516px">[</span><span class="w" style="left:528px">Jello</span><span class="b" style="left:588px">]</span><span class="o" style="left:602.4px">···········</span><span class="b" style="left:732px">(</span><span class="w" style="left:744px">404</span><span class="b" style="left:780px">)</span><span class="w" style="left:804px">947-2500</span></div>
<div class="r" style="top:1749.16px;left:-1px"><span class="d" style="left:120px">Suicidal Shrimp</span><span class="o" style="left:302.4px">·····</span><span class="d" style="left:360px">Canadian HQ</span><span class="o" style="left:494.4px">··</span><span class="b" style="left:516px">[</span><span class="w" style="left:528px">Red Leader</span><span class="b" style="left:648px">]</span><span class="o" style="left:662.4px">······</span><span class="b" style="left:732px">(</span><span class="w" style="left:744px">514</span><span class="b" style="left:780px">)</span><span class="w" style="left:804px">768-3383</span></div>
<div class="r" style="top:1770.76px;left:-1px"><span class="d" style="left:120px">The Emergency Room </span><span class="o" style="left:350.4px">·</span><span class="d" style="left:360px">Member Board</span><span class="o" style="left:506.4px">·</span><span class="b" style="left:516px">[</span><span class="w" style="left:528px">Dr. Love</span><span class="b" style="left:624px">]</span><span class="o" style="left:638.4px">········</span><span class="b" style="left:732px">(</span><span class="w" style="left:744px">504</span><span class="b" style="left:780px">)</span><span class="w" style="left:804px">751-4609</span></div>
<div class="r" style="top:1792.35px;left:-1px"><span class="d" style="left:120px">Atomic Bomb</span><span class="o" style="left:254.4px">·········</span><span class="d" style="left:360px">Member Board</span><span class="o" style="left:506.4px">·</span><span class="b" style="left:516px">[</span><span class="w" style="left:528px">Viper</span><span class="b" style="left:588px">]</span><span class="o" style="left:602.4px">···········</span><span class="b" style="left:732px">(</span><span class="w" style="left:744px">510</span><span class="b" style="left:780px">)</span><span class="w" style="left:804px">625-7312</span></div>
<div class="r" style="top:1813.95px;left:-1px"><span class="d" style="left:120px">Mad Circle</span><span class="o" style="left:242.4px">··········</span><span class="d" style="left:360px">Member Board</span><span class="o" style="left:506.4px">·</span><span class="b" style="left:516px">[</span><span class="w" style="left:528px">Nivenh</span><span class="b" style="left:600px">]</span><span class="o" style="left:614.4px">··········</span><span class="b" style="left:732px">(</span><span class="w" style="left:744px">214</span><span class="b" style="left:780px">)</span><span class="w" style="left:804px">NOT-OPEN</span></div>
<div class="r" style="top:1835.54px;left:-1px"><span class="d" style="left:120px">Zone 5</span><span class="o" style="left:194.4px">··············</span><span class="d" style="left:360px">Member Board</span><span class="o" style="left:506.4px">·</span><span class="b" style="left:516px">[</span><span class="w" style="left:528px">Ru Manchu</span><span class="b" style="left:636px">]</span><span class="o" style="left:650.4px">·······</span><span class="b" style="left:732px">(</span><span class="w" style="left:744px">805</span><span class="b" style="left:780px">)</span><span class="w" style="left:804px">664-1231</span></div>
<div class="r" style="top:1857.14px;left:-1px"><span class="d" style="left:120px">Psychotic Evolution</span><span class="o" style="left:350.4px">·</span><span class="d" style="left:360px">Member Board</span><span class="o" style="left:506.4px">·</span><span class="b" style="left:516px">[</span><span class="w" style="left:528px">Rustic Albino</span><span class="b" style="left:684px">]</span><span class="d" style="left:696px"> </span><span class="o" style="left:710.4px">··</span><span class="b" style="left:732px">(</span><span class="w" style="left:744px">818</span><span class="b" style="left:780px">)</span><span class="w" style="left:804px">879-0905</span></div>
<div class="r" style="top:1878.73px;left:-1px"><span class="d" style="left:120px">Dream Scape</span><span class="o" style="left:254.4px">·········</span><span class="d" style="left:360px">Member Board</span><span class="o" style="left:506.4px">·</span><span class="b" style="left:516px">[</span><span class="w" style="left:528px">Freaky Styley</span><span class="b" style="left:684px">]</span><span class="o" style="left:698.4px">···</span><span class="b" style="left:732px">(</span><span class="w" style="left:744px">214</span><span class="b" style="left:780px">)</span><span class="w" style="left:804px">771-2471</span></div>
<div class="r" style="top:1900.32px;left:-1px"><span class="d" style="left:120px">Cyber Hell</span><span class="o" style="left:242.4px">··········</span><span class="d" style="left:360px">Dist. Site</span><span class="o" style="left:482.4px">···</span><span class="b" style="left:516px">[</span><span class="w" style="left:528px">Hectic</span><span class="b" style="left:600px">]</span><span class="o" style="left:614.4px">··········</span><span class="b" style="left:732px">(</span><span class="w" style="left:744px">209</span><span class="b" style="left:780px">)</span><span class="w" style="left:804px">465-9606</span></div>
<div class="r" style="top:1921.92px;left:-1px"><span class="d" style="left:120px">Shameless Anarchy</span><span class="o" style="left:326.4px">···</span><span class="d" style="left:360px">Dist. Site</span><span class="o" style="left:482.4px">···</span><span class="b" style="left:516px">[</span><span class="w" style="left:528px">Righteous</span><span class="b" style="left:636px">]</span><span class="o" style="left:650.4px">·······</span><span class="b" style="left:732px">(</span><span class="w" style="left:744px">215</span><span class="b" style="left:780px">)</span><span class="w" style="left:804px">362-6256</span></div>
<div class="r" style="top:1943.51px;left:-1px"><span class="d" style="left:120px">Chains of Destruct.</span><span class="o" style="left:350.4px">·</span><span class="d" style="left:360px">Dist. Site</span><span class="o" style="left:482.4px">···</span><span class="b" style="left:516px">[</span><span class="w" style="left:528px">Illusion²</span><span class="b" style="left:636px">]</span><span class="o" style="left:650.4px">·······</span><span class="b" style="left:732px">(</span><span class="w" style="left:744px">404</span><span class="b" style="left:780px">)</span><span class="w" style="left:804px">928-2072</span></div>
<div class="r" style="top:1965.11px;left:-1px"><span class="d" style="left:120px">Enigma</span><span class="o" style="left:194.4px">··············</span><span class="d" style="left:360px">Dist. Site</span><span class="o" style="left:482.4px">···</span><span class="b" style="left:516px">[</span><span class="w" style="left:528px">Rynosuke</span><span class="b" style="left:624px">]</span><span class="o" style="left:638.4px">········</span><span class="b" style="left:732px">(</span><span class="w" style="left:744px">408</span><span class="b" style="left:780px">)</span><span class="w" style="left:804px">484-2058</span></div>
<div class="r" style="top:1986.7px;left:-1px"><span class="d" style="left:120px">The 11th Hour</span><span class="o" style="left:278.4px">·······</span><span class="d" style="left:360px">Dist. Site</span><span class="o" style="left:482.4px">···</span><span class="b" style="left:516px">[</span><span class="w" style="left:528px">Grifter</span><span class="b" style="left:612px">]</span><span class="o" style="left:626.4px">·········</span><span class="b" style="left:732px">(</span><span class="w" style="left:744px">415</span><span class="b" style="left:780px">)</span><span class="w" style="left:804px">855-9657</span></div>
<div class="r" style="top:2008.3px;left:-1px"><span class="d" style="left:120px">Corrosive Poison</span><span class="o" style="left:314.4px">····</span><span class="d" style="left:360px">Dist. Site</span><span class="o" style="left:482.4px">···</span><span class="b" style="left:516px">[</span><span class="w" style="left:528px">Psychotic Fiend</span><span class="b" style="left:708px">]</span><span class="o" style="left:722.4px">·</span><span class="b" style="left:732px">(</span><span class="w" style="left:744px">516</span><span class="b" style="left:780px">)</span><span class="w" style="left:804px">897-8837</span></div>
<div class="r" style="top:2029.89px;left:-1px"><span class="d" style="left:120px">Programmed Illusion</span><span class="o" style="left:350.4px">·</span><span class="d" style="left:360px">Dist. Site</span><span class="o" style="left:482.4px">···</span><span class="b" style="left:516px">[</span><span class="w" style="left:528px">Neurotic</span><span class="b" style="left:624px">]</span><span class="o" style="left:638.4px">········</span><span class="b" style="left:732px">(</span><span class="w" style="left:744px">613</span><span class="b" style="left:780px">)</span><span class="w" style="left:804px">824-7375</span></div>
<div class="r" style="top:2051.49px;left:-1px"><span class="d" style="left:120px">Channel Zero</span><span class="o" style="left:266.4px">········</span><span class="d" style="left:360px">Dist. Site</span><span class="o" style="left:482.4px">···</span><span class="b" style="left:516px">[</span><span class="w" style="left:528px">Beastie</span><span class="b" style="left:612px">]</span><span class="o" style="left:626.4px">·········</span><span class="b" style="left:732px">(</span><span class="w" style="left:744px">714</span><span class="b" style="left:780px">)</span><span class="w" style="left:804px">532-5968</span></div>
<div class="r" style="top:2073.08px;left:-1px"><span class="d" style="left:120px">Dimension-X</span><span class="o" style="left:254.4px">·········</span><span class="d" style="left:360px">Dist. Site</span><span class="o" style="left:482.4px">···</span><span class="b" style="left:516px">[</span><span class="w" style="left:528px">Ash</span><span class="b" style="left:564px">]</span><span class="o" style="left:578.4px">·············</span><span class="b" style="left:732px">(</span><span class="w" style="left:744px">805</span><span class="b" style="left:780px">)</span><span class="w" style="left:804px">499-6865</span></div>
<div class="r" style="top:2094.68px;left:-1px"><span class="d" style="left:120px">Packaged Rebellion</span><span class="o" style="left:338.4px">··</span><span class="d" style="left:360px">Dist. Site</span><span class="o" style="left:482.4px">···</span><span class="b" style="left:516px">[</span><span class="w" style="left:528px">Mass Delusion</span><span class="b" style="left:684px">]</span><span class="o" style="left:698.4px">···</span><span class="b" style="left:732px">(</span><span class="w" style="left:744px">916</span><span class="b" style="left:780px">)</span><span class="w" style="left:804px">246-7165</span></div>
<div class="r" style="top:2116.27px;left:-1px"><span class="d" style="left:120px">Evolution's End</span><span class="o" style="left:302.4px">·····</span><span class="d" style="left:360px">Dist. Site</span><span class="o" style="left:482.4px">···</span><span class="b" style="left:516px">[</span><span class="w" style="left:528px">Eternal Lie</span><span class="b" style="left:660px">]</span><span class="o" style="left:674.4px">·····</span><span class="b" style="left:732px">(</span><span class="w" style="left:744px">919</span><span class="b" style="left:780px">)</span><span class="w" style="left:804px">929-7970</span></div>
<div class="r" style="top:2159.46px;left:-1px"><span class="d" style="left:192px">We're always looking for more talent, so if you have skills</span></div>
<div class="r" style="top:2181.05px;left:-1px"><span class="d" style="left:120px">fill out an application and call the World HQ.. .  Also, if you</span></div>
<div class="r" style="top:2202.65px;left:-1px"><span class="d" style="left:120px">don't see your area code listed above, and you run a strickly art</span></div>
<div class="r" style="top:2224.24px;left:-1px"><span class="d" style="left:120px">oriented system, apply to be a distribution site.. .</span></div>
<div class="r" style="top:2267.43px;left:-1px"><span class="d" style="left:396px">. ..</span><span class="k" style="left:444px">CRiSiS 1994</span><span class="d" style="left:576px">.. .</span></div>
</div>
</body></html>
